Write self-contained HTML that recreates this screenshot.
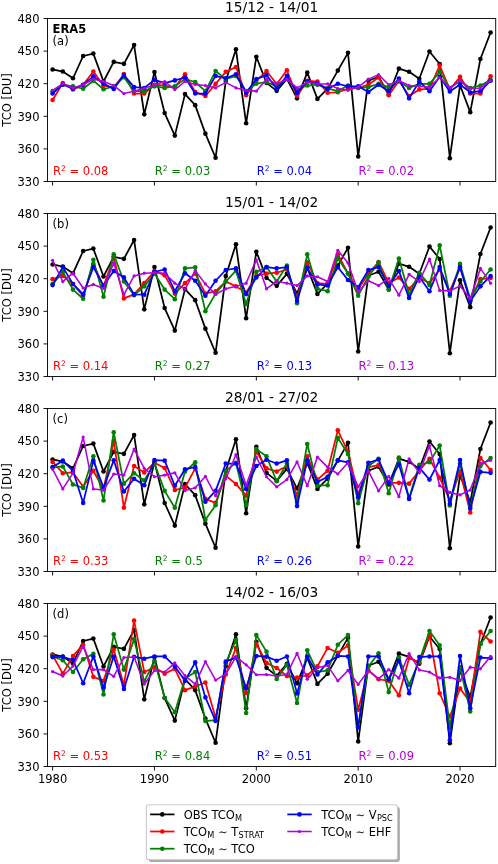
<!DOCTYPE html>
<html><head><meta charset="utf-8"><title>TCO</title>
<style>html,body{margin:0;padding:0;background:#fff}svg{display:block}</style></head>
<body>
<svg width="498" height="864" viewBox="0 0 498 864" font-family="'DejaVu Sans', 'Liberation Sans', sans-serif" font-size="11.5px" fill="#000">
<rect width="498" height="864" fill="#fff"/>
<g>
<clipPath id="c0"><rect x="47.5" y="18.5" width="448.2" height="163.0"/></clipPath>
<line x1="43.5" x2="47.5" y1="18.50" y2="18.50" stroke="#000" stroke-width="0.92"/>
<text x="39.50" y="22.85" text-anchor="end">480</text>
<line x1="43.5" x2="47.5" y1="51.10" y2="51.10" stroke="#000" stroke-width="0.92"/>
<text x="39.50" y="55.45" text-anchor="end">450</text>
<line x1="43.5" x2="47.5" y1="83.70" y2="83.70" stroke="#000" stroke-width="0.92"/>
<text x="39.50" y="88.05" text-anchor="end">420</text>
<line x1="43.5" x2="47.5" y1="116.30" y2="116.30" stroke="#000" stroke-width="0.92"/>
<text x="39.50" y="120.65" text-anchor="end">390</text>
<line x1="43.5" x2="47.5" y1="148.90" y2="148.90" stroke="#000" stroke-width="0.92"/>
<text x="39.50" y="153.25" text-anchor="end">360</text>
<line x1="43.5" x2="47.5" y1="181.50" y2="181.50" stroke="#000" stroke-width="0.92"/>
<text x="39.50" y="185.85" text-anchor="end">330</text>
<line x1="52.60" x2="52.60" y1="181.5" y2="185.5" stroke="#000" stroke-width="0.92"/>
<line x1="154.46" x2="154.46" y1="181.5" y2="185.5" stroke="#000" stroke-width="0.92"/>
<line x1="256.32" x2="256.32" y1="181.5" y2="185.5" stroke="#000" stroke-width="0.92"/>
<line x1="358.18" x2="358.18" y1="181.5" y2="185.5" stroke="#000" stroke-width="0.92"/>
<line x1="460.04" x2="460.04" y1="181.5" y2="185.5" stroke="#000" stroke-width="0.92"/>
<text transform="translate(10.8,100.00) rotate(-90)" text-anchor="middle">TCO [DU]</text>
<text x="271.60" y="11.90" text-anchor="middle" font-size="13.8px">15/12 - 14/01</text>
<g clip-path="url(#c0)">
<polyline points="52.60,69.46 62.79,71.55 72.97,78.29 83.16,56.00 93.34,53.62 103.53,81.51 113.72,61.91 123.90,63.84 134.09,44.99 144.27,114.35 154.46,71.98 164.65,113.06 174.83,135.59 185.02,94.10 195.20,105.15 205.39,133.66 215.58,157.76 225.76,81.10 235.95,49.29 246.13,123.30 256.32,56.72 266.51,82.83 276.69,90.86 286.88,78.81 297.06,98.37 307.25,72.67 317.44,98.89 327.62,88.73 337.81,70.58 347.99,52.82 358.18,156.55 368.37,80.70 378.55,76.80 388.74,94.50 398.92,68.61 409.11,71.82 419.30,78.81 429.48,51.53 439.67,63.95 449.85,158.24 460.04,85.23 470.23,112.14 480.41,58.97 490.60,32.46" fill="none" stroke="#000000" stroke-width="1.75" stroke-linejoin="round" stroke-linecap="butt"/><circle cx="52.60" cy="69.46" r="2.30" fill="#000000"/><circle cx="62.79" cy="71.55" r="2.30" fill="#000000"/><circle cx="72.97" cy="78.29" r="2.30" fill="#000000"/><circle cx="83.16" cy="56.00" r="2.30" fill="#000000"/><circle cx="93.34" cy="53.62" r="2.30" fill="#000000"/><circle cx="103.53" cy="81.51" r="2.30" fill="#000000"/><circle cx="113.72" cy="61.91" r="2.30" fill="#000000"/><circle cx="123.90" cy="63.84" r="2.30" fill="#000000"/><circle cx="134.09" cy="44.99" r="2.30" fill="#000000"/><circle cx="144.27" cy="114.35" r="2.30" fill="#000000"/><circle cx="154.46" cy="71.98" r="2.30" fill="#000000"/><circle cx="164.65" cy="113.06" r="2.30" fill="#000000"/><circle cx="174.83" cy="135.59" r="2.30" fill="#000000"/><circle cx="185.02" cy="94.10" r="2.30" fill="#000000"/><circle cx="195.20" cy="105.15" r="2.30" fill="#000000"/><circle cx="205.39" cy="133.66" r="2.30" fill="#000000"/><circle cx="215.58" cy="157.76" r="2.30" fill="#000000"/><circle cx="225.76" cy="81.10" r="2.30" fill="#000000"/><circle cx="235.95" cy="49.29" r="2.30" fill="#000000"/><circle cx="246.13" cy="123.30" r="2.30" fill="#000000"/><circle cx="256.32" cy="56.72" r="2.30" fill="#000000"/><circle cx="266.51" cy="82.83" r="2.30" fill="#000000"/><circle cx="276.69" cy="90.86" r="2.30" fill="#000000"/><circle cx="286.88" cy="78.81" r="2.30" fill="#000000"/><circle cx="297.06" cy="98.37" r="2.30" fill="#000000"/><circle cx="307.25" cy="72.67" r="2.30" fill="#000000"/><circle cx="317.44" cy="98.89" r="2.30" fill="#000000"/><circle cx="327.62" cy="88.73" r="2.30" fill="#000000"/><circle cx="337.81" cy="70.58" r="2.30" fill="#000000"/><circle cx="347.99" cy="52.82" r="2.30" fill="#000000"/><circle cx="358.18" cy="156.55" r="2.30" fill="#000000"/><circle cx="368.37" cy="80.70" r="2.30" fill="#000000"/><circle cx="378.55" cy="76.80" r="2.30" fill="#000000"/><circle cx="388.74" cy="94.50" r="2.30" fill="#000000"/><circle cx="398.92" cy="68.61" r="2.30" fill="#000000"/><circle cx="409.11" cy="71.82" r="2.30" fill="#000000"/><circle cx="419.30" cy="78.81" r="2.30" fill="#000000"/><circle cx="429.48" cy="51.53" r="2.30" fill="#000000"/><circle cx="439.67" cy="63.95" r="2.30" fill="#000000"/><circle cx="449.85" cy="158.24" r="2.30" fill="#000000"/><circle cx="460.04" cy="85.23" r="2.30" fill="#000000"/><circle cx="470.23" cy="112.14" r="2.30" fill="#000000"/><circle cx="480.41" cy="58.97" r="2.30" fill="#000000"/><circle cx="490.60" cy="32.46" r="2.30" fill="#000000"/>
<polyline points="52.60,99.98 62.79,83.11 72.97,89.54 83.16,84.72 93.34,71.55 103.53,85.52 113.72,87.93 123.90,73.96 134.09,93.55 144.27,93.55 154.46,84.72 164.65,85.52 174.83,87.13 185.02,74.28 195.20,91.95 205.39,95.96 215.58,83.92 225.76,71.87 235.95,67.05 246.13,95.16 256.32,80.70 266.51,71.06 276.69,83.92 286.88,70.26 297.06,95.96 307.25,80.70 317.44,81.51 327.62,92.75 337.81,92.27 347.99,88.73 358.18,87.93 368.37,84.72 378.55,77.49 388.74,95.16 398.92,80.70 409.11,95.96 419.30,89.54 429.48,88.73 439.67,65.44 449.85,89.54 460.04,76.69 470.23,93.55 480.41,93.55 490.60,76.20" fill="none" stroke="#ff0000" stroke-width="1.75" stroke-linejoin="round" stroke-linecap="butt"/><circle cx="52.60" cy="99.98" r="2.30" fill="#ff0000"/><circle cx="62.79" cy="83.11" r="2.30" fill="#ff0000"/><circle cx="72.97" cy="89.54" r="2.30" fill="#ff0000"/><circle cx="83.16" cy="84.72" r="2.30" fill="#ff0000"/><circle cx="93.34" cy="71.55" r="2.30" fill="#ff0000"/><circle cx="103.53" cy="85.52" r="2.30" fill="#ff0000"/><circle cx="113.72" cy="87.93" r="2.30" fill="#ff0000"/><circle cx="123.90" cy="73.96" r="2.30" fill="#ff0000"/><circle cx="134.09" cy="93.55" r="2.30" fill="#ff0000"/><circle cx="144.27" cy="93.55" r="2.30" fill="#ff0000"/><circle cx="154.46" cy="84.72" r="2.30" fill="#ff0000"/><circle cx="164.65" cy="85.52" r="2.30" fill="#ff0000"/><circle cx="174.83" cy="87.13" r="2.30" fill="#ff0000"/><circle cx="185.02" cy="74.28" r="2.30" fill="#ff0000"/><circle cx="195.20" cy="91.95" r="2.30" fill="#ff0000"/><circle cx="205.39" cy="95.96" r="2.30" fill="#ff0000"/><circle cx="215.58" cy="83.92" r="2.30" fill="#ff0000"/><circle cx="225.76" cy="71.87" r="2.30" fill="#ff0000"/><circle cx="235.95" cy="67.05" r="2.30" fill="#ff0000"/><circle cx="246.13" cy="95.16" r="2.30" fill="#ff0000"/><circle cx="256.32" cy="80.70" r="2.30" fill="#ff0000"/><circle cx="266.51" cy="71.06" r="2.30" fill="#ff0000"/><circle cx="276.69" cy="83.92" r="2.30" fill="#ff0000"/><circle cx="286.88" cy="70.26" r="2.30" fill="#ff0000"/><circle cx="297.06" cy="95.96" r="2.30" fill="#ff0000"/><circle cx="307.25" cy="80.70" r="2.30" fill="#ff0000"/><circle cx="317.44" cy="81.51" r="2.30" fill="#ff0000"/><circle cx="327.62" cy="92.75" r="2.30" fill="#ff0000"/><circle cx="337.81" cy="92.27" r="2.30" fill="#ff0000"/><circle cx="347.99" cy="88.73" r="2.30" fill="#ff0000"/><circle cx="358.18" cy="87.93" r="2.30" fill="#ff0000"/><circle cx="368.37" cy="84.72" r="2.30" fill="#ff0000"/><circle cx="378.55" cy="77.49" r="2.30" fill="#ff0000"/><circle cx="388.74" cy="95.16" r="2.30" fill="#ff0000"/><circle cx="398.92" cy="80.70" r="2.30" fill="#ff0000"/><circle cx="409.11" cy="95.96" r="2.30" fill="#ff0000"/><circle cx="419.30" cy="89.54" r="2.30" fill="#ff0000"/><circle cx="429.48" cy="88.73" r="2.30" fill="#ff0000"/><circle cx="439.67" cy="65.44" r="2.30" fill="#ff0000"/><circle cx="449.85" cy="89.54" r="2.30" fill="#ff0000"/><circle cx="460.04" cy="76.69" r="2.30" fill="#ff0000"/><circle cx="470.23" cy="93.55" r="2.30" fill="#ff0000"/><circle cx="480.41" cy="93.55" r="2.30" fill="#ff0000"/><circle cx="490.60" cy="76.20" r="2.30" fill="#ff0000"/>
<polyline points="52.60,91.14 62.79,84.72 72.97,86.33 83.16,88.73 93.34,80.70 103.53,89.22 113.72,86.33 123.90,77.17 134.09,91.14 144.27,91.14 154.46,86.33 164.65,87.93 174.83,86.33 185.02,79.10 195.20,81.99 205.39,91.14 215.58,71.06 225.76,79.10 235.95,75.88 246.13,91.14 256.32,83.59 266.51,81.99 276.69,86.33 286.88,79.10 297.06,89.54 307.25,85.52 317.44,84.72 327.62,88.41 337.81,91.14 347.99,85.52 358.18,87.93 368.37,87.13 378.55,83.92 388.74,87.13 398.92,81.51 409.11,87.93 419.30,83.92 429.48,83.92 439.67,71.87 449.85,87.93 460.04,81.02 470.23,87.93 480.41,85.52 490.60,79.90" fill="none" stroke="#008000" stroke-width="1.75" stroke-linejoin="round" stroke-linecap="butt"/><circle cx="52.60" cy="91.14" r="2.30" fill="#008000"/><circle cx="62.79" cy="84.72" r="2.30" fill="#008000"/><circle cx="72.97" cy="86.33" r="2.30" fill="#008000"/><circle cx="83.16" cy="88.73" r="2.30" fill="#008000"/><circle cx="93.34" cy="80.70" r="2.30" fill="#008000"/><circle cx="103.53" cy="89.22" r="2.30" fill="#008000"/><circle cx="113.72" cy="86.33" r="2.30" fill="#008000"/><circle cx="123.90" cy="77.17" r="2.30" fill="#008000"/><circle cx="134.09" cy="91.14" r="2.30" fill="#008000"/><circle cx="144.27" cy="91.14" r="2.30" fill="#008000"/><circle cx="154.46" cy="86.33" r="2.30" fill="#008000"/><circle cx="164.65" cy="87.93" r="2.30" fill="#008000"/><circle cx="174.83" cy="86.33" r="2.30" fill="#008000"/><circle cx="185.02" cy="79.10" r="2.30" fill="#008000"/><circle cx="195.20" cy="81.99" r="2.30" fill="#008000"/><circle cx="205.39" cy="91.14" r="2.30" fill="#008000"/><circle cx="215.58" cy="71.06" r="2.30" fill="#008000"/><circle cx="225.76" cy="79.10" r="2.30" fill="#008000"/><circle cx="235.95" cy="75.88" r="2.30" fill="#008000"/><circle cx="246.13" cy="91.14" r="2.30" fill="#008000"/><circle cx="256.32" cy="83.59" r="2.30" fill="#008000"/><circle cx="266.51" cy="81.99" r="2.30" fill="#008000"/><circle cx="276.69" cy="86.33" r="2.30" fill="#008000"/><circle cx="286.88" cy="79.10" r="2.30" fill="#008000"/><circle cx="297.06" cy="89.54" r="2.30" fill="#008000"/><circle cx="307.25" cy="85.52" r="2.30" fill="#008000"/><circle cx="317.44" cy="84.72" r="2.30" fill="#008000"/><circle cx="327.62" cy="88.41" r="2.30" fill="#008000"/><circle cx="337.81" cy="91.14" r="2.30" fill="#008000"/><circle cx="347.99" cy="85.52" r="2.30" fill="#008000"/><circle cx="358.18" cy="87.93" r="2.30" fill="#008000"/><circle cx="368.37" cy="87.13" r="2.30" fill="#008000"/><circle cx="378.55" cy="83.92" r="2.30" fill="#008000"/><circle cx="388.74" cy="87.13" r="2.30" fill="#008000"/><circle cx="398.92" cy="81.51" r="2.30" fill="#008000"/><circle cx="409.11" cy="87.93" r="2.30" fill="#008000"/><circle cx="419.30" cy="83.92" r="2.30" fill="#008000"/><circle cx="429.48" cy="83.92" r="2.30" fill="#008000"/><circle cx="439.67" cy="71.87" r="2.30" fill="#008000"/><circle cx="449.85" cy="87.93" r="2.30" fill="#008000"/><circle cx="460.04" cy="81.02" r="2.30" fill="#008000"/><circle cx="470.23" cy="87.93" r="2.30" fill="#008000"/><circle cx="480.41" cy="85.52" r="2.30" fill="#008000"/><circle cx="490.60" cy="79.90" r="2.30" fill="#008000"/>
<polyline points="52.60,93.55 62.79,84.40 72.97,88.73 83.16,84.72 93.34,76.37 103.53,83.59 113.72,89.06 123.90,75.08 134.09,87.13 144.27,87.93 154.46,79.90 164.65,83.11 174.83,80.38 185.02,77.49 195.20,93.55 205.39,93.55 215.58,75.88 225.76,78.29 235.95,74.28 246.13,92.75 256.32,79.10 266.51,75.08 276.69,88.73 286.88,75.88 297.06,92.75 307.25,81.51 317.44,83.59 327.62,88.90 337.81,83.76 347.99,86.33 358.18,86.33 368.37,91.95 378.55,84.72 388.74,91.14 398.92,78.61 409.11,98.37 419.30,81.51 429.48,91.14 439.67,76.69 449.85,91.47 460.04,84.56 470.23,92.43 480.41,91.14 490.60,80.70" fill="none" stroke="#0000ff" stroke-width="1.75" stroke-linejoin="round" stroke-linecap="butt"/><circle cx="52.60" cy="93.55" r="2.30" fill="#0000ff"/><circle cx="62.79" cy="84.40" r="2.30" fill="#0000ff"/><circle cx="72.97" cy="88.73" r="2.30" fill="#0000ff"/><circle cx="83.16" cy="84.72" r="2.30" fill="#0000ff"/><circle cx="93.34" cy="76.37" r="2.30" fill="#0000ff"/><circle cx="103.53" cy="83.59" r="2.30" fill="#0000ff"/><circle cx="113.72" cy="89.06" r="2.30" fill="#0000ff"/><circle cx="123.90" cy="75.08" r="2.30" fill="#0000ff"/><circle cx="134.09" cy="87.13" r="2.30" fill="#0000ff"/><circle cx="144.27" cy="87.93" r="2.30" fill="#0000ff"/><circle cx="154.46" cy="79.90" r="2.30" fill="#0000ff"/><circle cx="164.65" cy="83.11" r="2.30" fill="#0000ff"/><circle cx="174.83" cy="80.38" r="2.30" fill="#0000ff"/><circle cx="185.02" cy="77.49" r="2.30" fill="#0000ff"/><circle cx="195.20" cy="93.55" r="2.30" fill="#0000ff"/><circle cx="205.39" cy="93.55" r="2.30" fill="#0000ff"/><circle cx="215.58" cy="75.88" r="2.30" fill="#0000ff"/><circle cx="225.76" cy="78.29" r="2.30" fill="#0000ff"/><circle cx="235.95" cy="74.28" r="2.30" fill="#0000ff"/><circle cx="246.13" cy="92.75" r="2.30" fill="#0000ff"/><circle cx="256.32" cy="79.10" r="2.30" fill="#0000ff"/><circle cx="266.51" cy="75.08" r="2.30" fill="#0000ff"/><circle cx="276.69" cy="88.73" r="2.30" fill="#0000ff"/><circle cx="286.88" cy="75.88" r="2.30" fill="#0000ff"/><circle cx="297.06" cy="92.75" r="2.30" fill="#0000ff"/><circle cx="307.25" cy="81.51" r="2.30" fill="#0000ff"/><circle cx="317.44" cy="83.59" r="2.30" fill="#0000ff"/><circle cx="327.62" cy="88.90" r="2.30" fill="#0000ff"/><circle cx="337.81" cy="83.76" r="2.30" fill="#0000ff"/><circle cx="347.99" cy="86.33" r="2.30" fill="#0000ff"/><circle cx="358.18" cy="86.33" r="2.30" fill="#0000ff"/><circle cx="368.37" cy="91.95" r="2.30" fill="#0000ff"/><circle cx="378.55" cy="84.72" r="2.30" fill="#0000ff"/><circle cx="388.74" cy="91.14" r="2.30" fill="#0000ff"/><circle cx="398.92" cy="78.61" r="2.30" fill="#0000ff"/><circle cx="409.11" cy="98.37" r="2.30" fill="#0000ff"/><circle cx="419.30" cy="81.51" r="2.30" fill="#0000ff"/><circle cx="429.48" cy="91.14" r="2.30" fill="#0000ff"/><circle cx="439.67" cy="76.69" r="2.30" fill="#0000ff"/><circle cx="449.85" cy="91.47" r="2.30" fill="#0000ff"/><circle cx="460.04" cy="84.56" r="2.30" fill="#0000ff"/><circle cx="470.23" cy="92.43" r="2.30" fill="#0000ff"/><circle cx="480.41" cy="91.14" r="2.30" fill="#0000ff"/><circle cx="490.60" cy="80.70" r="2.30" fill="#0000ff"/>
<polyline points="52.60,90.34 62.79,83.59 72.97,87.93 83.16,84.72 93.34,79.10 103.53,81.51 113.72,85.52 123.90,93.55 134.09,91.31 144.27,88.25 154.46,85.04 164.65,81.51 174.83,89.54 185.02,81.51 195.20,84.40 205.39,85.52 215.58,87.93 225.76,82.31 235.95,87.93 246.13,90.34 256.32,91.14 266.51,79.10 276.69,83.92 286.88,79.10 297.06,87.93 307.25,82.31 317.44,83.92 327.62,83.92 337.81,88.57 347.99,90.34 358.18,87.13 368.37,79.10 378.55,74.60 388.74,84.72 398.92,80.70 409.11,85.52 419.30,86.33 429.48,87.13 439.67,77.49 449.85,87.61 460.04,80.54 470.23,88.73 480.41,87.93 490.60,80.38" fill="none" stroke="#b200de" stroke-width="1.55" stroke-linejoin="round" stroke-linecap="butt"/><circle cx="52.60" cy="90.34" r="1.60" fill="#b200de"/><circle cx="62.79" cy="83.59" r="1.60" fill="#b200de"/><circle cx="72.97" cy="87.93" r="1.60" fill="#b200de"/><circle cx="83.16" cy="84.72" r="1.60" fill="#b200de"/><circle cx="93.34" cy="79.10" r="1.60" fill="#b200de"/><circle cx="103.53" cy="81.51" r="1.60" fill="#b200de"/><circle cx="113.72" cy="85.52" r="1.60" fill="#b200de"/><circle cx="123.90" cy="93.55" r="1.60" fill="#b200de"/><circle cx="134.09" cy="91.31" r="1.60" fill="#b200de"/><circle cx="144.27" cy="88.25" r="1.60" fill="#b200de"/><circle cx="154.46" cy="85.04" r="1.60" fill="#b200de"/><circle cx="164.65" cy="81.51" r="1.60" fill="#b200de"/><circle cx="174.83" cy="89.54" r="1.60" fill="#b200de"/><circle cx="185.02" cy="81.51" r="1.60" fill="#b200de"/><circle cx="195.20" cy="84.40" r="1.60" fill="#b200de"/><circle cx="205.39" cy="85.52" r="1.60" fill="#b200de"/><circle cx="215.58" cy="87.93" r="1.60" fill="#b200de"/><circle cx="225.76" cy="82.31" r="1.60" fill="#b200de"/><circle cx="235.95" cy="87.93" r="1.60" fill="#b200de"/><circle cx="246.13" cy="90.34" r="1.60" fill="#b200de"/><circle cx="256.32" cy="91.14" r="1.60" fill="#b200de"/><circle cx="266.51" cy="79.10" r="1.60" fill="#b200de"/><circle cx="276.69" cy="83.92" r="1.60" fill="#b200de"/><circle cx="286.88" cy="79.10" r="1.60" fill="#b200de"/><circle cx="297.06" cy="87.93" r="1.60" fill="#b200de"/><circle cx="307.25" cy="82.31" r="1.60" fill="#b200de"/><circle cx="317.44" cy="83.92" r="1.60" fill="#b200de"/><circle cx="327.62" cy="83.92" r="1.60" fill="#b200de"/><circle cx="337.81" cy="88.57" r="1.60" fill="#b200de"/><circle cx="347.99" cy="90.34" r="1.60" fill="#b200de"/><circle cx="358.18" cy="87.13" r="1.60" fill="#b200de"/><circle cx="368.37" cy="79.10" r="1.60" fill="#b200de"/><circle cx="378.55" cy="74.60" r="1.60" fill="#b200de"/><circle cx="388.74" cy="84.72" r="1.60" fill="#b200de"/><circle cx="398.92" cy="80.70" r="1.60" fill="#b200de"/><circle cx="409.11" cy="85.52" r="1.60" fill="#b200de"/><circle cx="419.30" cy="86.33" r="1.60" fill="#b200de"/><circle cx="429.48" cy="87.13" r="1.60" fill="#b200de"/><circle cx="439.67" cy="77.49" r="1.60" fill="#b200de"/><circle cx="449.85" cy="87.61" r="1.60" fill="#b200de"/><circle cx="460.04" cy="80.54" r="1.60" fill="#b200de"/><circle cx="470.23" cy="88.73" r="1.60" fill="#b200de"/><circle cx="480.41" cy="87.93" r="1.60" fill="#b200de"/><circle cx="490.60" cy="80.38" r="1.60" fill="#b200de"/>
</g>
<rect x="47.5" y="18.5" width="448.2" height="163.0" fill="none" stroke="#000" stroke-width="0.92"/>
<text x="52.6" y="32.70" font-weight="bold">ERA5</text>
<text x="52.6" y="45.10">(a)</text>
<text x="53.00" y="175.40" fill="#ff0000">R<tspan font-size="7.6px" dy="-4.1">2</tspan><tspan dy="4.1"> = 0.08</tspan></text>
<text x="154.86" y="175.40" fill="#008000">R<tspan font-size="7.6px" dy="-4.1">2</tspan><tspan dy="4.1"> = 0.03</tspan></text>
<text x="256.72" y="175.40" fill="#0000ff">R<tspan font-size="7.6px" dy="-4.1">2</tspan><tspan dy="4.1"> = 0.04</tspan></text>
<text x="358.58" y="175.40" fill="#b200de">R<tspan font-size="7.6px" dy="-4.1">2</tspan><tspan dy="4.1"> = 0.02</tspan></text>
</g>
<g>
<clipPath id="c1"><rect x="47.5" y="213.5" width="448.2" height="163.0"/></clipPath>
<line x1="43.5" x2="47.5" y1="213.50" y2="213.50" stroke="#000" stroke-width="0.92"/>
<text x="39.50" y="217.85" text-anchor="end">480</text>
<line x1="43.5" x2="47.5" y1="246.10" y2="246.10" stroke="#000" stroke-width="0.92"/>
<text x="39.50" y="250.45" text-anchor="end">450</text>
<line x1="43.5" x2="47.5" y1="278.70" y2="278.70" stroke="#000" stroke-width="0.92"/>
<text x="39.50" y="283.05" text-anchor="end">420</text>
<line x1="43.5" x2="47.5" y1="311.30" y2="311.30" stroke="#000" stroke-width="0.92"/>
<text x="39.50" y="315.65" text-anchor="end">390</text>
<line x1="43.5" x2="47.5" y1="343.90" y2="343.90" stroke="#000" stroke-width="0.92"/>
<text x="39.50" y="348.25" text-anchor="end">360</text>
<line x1="43.5" x2="47.5" y1="376.50" y2="376.50" stroke="#000" stroke-width="0.92"/>
<text x="39.50" y="380.85" text-anchor="end">330</text>
<line x1="52.60" x2="52.60" y1="376.5" y2="380.5" stroke="#000" stroke-width="0.92"/>
<line x1="154.46" x2="154.46" y1="376.5" y2="380.5" stroke="#000" stroke-width="0.92"/>
<line x1="256.32" x2="256.32" y1="376.5" y2="380.5" stroke="#000" stroke-width="0.92"/>
<line x1="358.18" x2="358.18" y1="376.5" y2="380.5" stroke="#000" stroke-width="0.92"/>
<line x1="460.04" x2="460.04" y1="376.5" y2="380.5" stroke="#000" stroke-width="0.92"/>
<text transform="translate(10.8,295.00) rotate(-90)" text-anchor="middle">TCO [DU]</text>
<text x="271.60" y="206.90" text-anchor="middle" font-size="13.8px">15/01 - 14/02</text>
<g clip-path="url(#c1)">
<polyline points="52.60,264.46 62.79,266.55 72.97,273.29 83.16,251.00 93.34,248.62 103.53,276.51 113.72,256.91 123.90,258.84 134.09,239.99 144.27,309.35 154.46,266.98 164.65,308.06 174.83,330.59 185.02,289.10 195.20,300.15 205.39,328.66 215.58,352.76 225.76,276.10 235.95,244.29 246.13,318.30 256.32,251.72 266.51,277.83 276.69,285.86 286.88,273.81 297.06,293.37 307.25,267.67 317.44,293.89 327.62,283.73 337.81,265.58 347.99,247.82 358.18,351.55 368.37,275.70 378.55,271.80 388.74,289.50 398.92,263.61 409.11,266.82 419.30,273.81 429.48,246.53 439.67,258.95 449.85,353.24 460.04,280.23 470.23,307.14 480.41,253.97 490.60,227.46" fill="none" stroke="#000000" stroke-width="1.75" stroke-linejoin="round" stroke-linecap="butt"/><circle cx="52.60" cy="264.46" r="2.30" fill="#000000"/><circle cx="62.79" cy="266.55" r="2.30" fill="#000000"/><circle cx="72.97" cy="273.29" r="2.30" fill="#000000"/><circle cx="83.16" cy="251.00" r="2.30" fill="#000000"/><circle cx="93.34" cy="248.62" r="2.30" fill="#000000"/><circle cx="103.53" cy="276.51" r="2.30" fill="#000000"/><circle cx="113.72" cy="256.91" r="2.30" fill="#000000"/><circle cx="123.90" cy="258.84" r="2.30" fill="#000000"/><circle cx="134.09" cy="239.99" r="2.30" fill="#000000"/><circle cx="144.27" cy="309.35" r="2.30" fill="#000000"/><circle cx="154.46" cy="266.98" r="2.30" fill="#000000"/><circle cx="164.65" cy="308.06" r="2.30" fill="#000000"/><circle cx="174.83" cy="330.59" r="2.30" fill="#000000"/><circle cx="185.02" cy="289.10" r="2.30" fill="#000000"/><circle cx="195.20" cy="300.15" r="2.30" fill="#000000"/><circle cx="205.39" cy="328.66" r="2.30" fill="#000000"/><circle cx="215.58" cy="352.76" r="2.30" fill="#000000"/><circle cx="225.76" cy="276.10" r="2.30" fill="#000000"/><circle cx="235.95" cy="244.29" r="2.30" fill="#000000"/><circle cx="246.13" cy="318.30" r="2.30" fill="#000000"/><circle cx="256.32" cy="251.72" r="2.30" fill="#000000"/><circle cx="266.51" cy="277.83" r="2.30" fill="#000000"/><circle cx="276.69" cy="285.86" r="2.30" fill="#000000"/><circle cx="286.88" cy="273.81" r="2.30" fill="#000000"/><circle cx="297.06" cy="293.37" r="2.30" fill="#000000"/><circle cx="307.25" cy="267.67" r="2.30" fill="#000000"/><circle cx="317.44" cy="293.89" r="2.30" fill="#000000"/><circle cx="327.62" cy="283.73" r="2.30" fill="#000000"/><circle cx="337.81" cy="265.58" r="2.30" fill="#000000"/><circle cx="347.99" cy="247.82" r="2.30" fill="#000000"/><circle cx="358.18" cy="351.55" r="2.30" fill="#000000"/><circle cx="368.37" cy="275.70" r="2.30" fill="#000000"/><circle cx="378.55" cy="271.80" r="2.30" fill="#000000"/><circle cx="388.74" cy="289.50" r="2.30" fill="#000000"/><circle cx="398.92" cy="263.61" r="2.30" fill="#000000"/><circle cx="409.11" cy="266.82" r="2.30" fill="#000000"/><circle cx="419.30" cy="273.81" r="2.30" fill="#000000"/><circle cx="429.48" cy="246.53" r="2.30" fill="#000000"/><circle cx="439.67" cy="258.95" r="2.30" fill="#000000"/><circle cx="449.85" cy="353.24" r="2.30" fill="#000000"/><circle cx="460.04" cy="280.23" r="2.30" fill="#000000"/><circle cx="470.23" cy="307.14" r="2.30" fill="#000000"/><circle cx="480.41" cy="253.97" r="2.30" fill="#000000"/><circle cx="490.60" cy="227.46" r="2.30" fill="#000000"/>
<polyline points="52.60,279.14 62.79,275.93 72.97,284.12 83.16,296.01 93.34,263.88 103.53,286.37 113.72,257.46 123.90,298.42 134.09,294.41 144.27,283.16 154.46,271.11 164.65,275.13 174.83,293.60 185.02,283.16 195.20,273.52 205.39,293.60 215.58,291.19 225.76,281.55 235.95,286.37 246.13,292.80 256.32,275.93 266.51,273.52 276.69,272.72 286.88,269.51 297.06,297.62 307.25,262.28 317.44,283.16 327.62,283.96 337.81,254.24 347.99,273.52 358.18,289.59 368.37,273.52 378.55,261.96 388.74,283.16 398.92,277.54 409.11,288.78 419.30,277.54 429.48,283.16 439.67,269.51 449.85,291.19 460.04,267.42 470.23,299.55 480.41,279.14 490.60,278.02" fill="none" stroke="#ff0000" stroke-width="1.75" stroke-linejoin="round" stroke-linecap="butt"/><circle cx="52.60" cy="279.14" r="2.30" fill="#ff0000"/><circle cx="62.79" cy="275.93" r="2.30" fill="#ff0000"/><circle cx="72.97" cy="284.12" r="2.30" fill="#ff0000"/><circle cx="83.16" cy="296.01" r="2.30" fill="#ff0000"/><circle cx="93.34" cy="263.88" r="2.30" fill="#ff0000"/><circle cx="103.53" cy="286.37" r="2.30" fill="#ff0000"/><circle cx="113.72" cy="257.46" r="2.30" fill="#ff0000"/><circle cx="123.90" cy="298.42" r="2.30" fill="#ff0000"/><circle cx="134.09" cy="294.41" r="2.30" fill="#ff0000"/><circle cx="144.27" cy="283.16" r="2.30" fill="#ff0000"/><circle cx="154.46" cy="271.11" r="2.30" fill="#ff0000"/><circle cx="164.65" cy="275.13" r="2.30" fill="#ff0000"/><circle cx="174.83" cy="293.60" r="2.30" fill="#ff0000"/><circle cx="185.02" cy="283.16" r="2.30" fill="#ff0000"/><circle cx="195.20" cy="273.52" r="2.30" fill="#ff0000"/><circle cx="205.39" cy="293.60" r="2.30" fill="#ff0000"/><circle cx="215.58" cy="291.19" r="2.30" fill="#ff0000"/><circle cx="225.76" cy="281.55" r="2.30" fill="#ff0000"/><circle cx="235.95" cy="286.37" r="2.30" fill="#ff0000"/><circle cx="246.13" cy="292.80" r="2.30" fill="#ff0000"/><circle cx="256.32" cy="275.93" r="2.30" fill="#ff0000"/><circle cx="266.51" cy="273.52" r="2.30" fill="#ff0000"/><circle cx="276.69" cy="272.72" r="2.30" fill="#ff0000"/><circle cx="286.88" cy="269.51" r="2.30" fill="#ff0000"/><circle cx="297.06" cy="297.62" r="2.30" fill="#ff0000"/><circle cx="307.25" cy="262.28" r="2.30" fill="#ff0000"/><circle cx="317.44" cy="283.16" r="2.30" fill="#ff0000"/><circle cx="327.62" cy="283.96" r="2.30" fill="#ff0000"/><circle cx="337.81" cy="254.24" r="2.30" fill="#ff0000"/><circle cx="347.99" cy="273.52" r="2.30" fill="#ff0000"/><circle cx="358.18" cy="289.59" r="2.30" fill="#ff0000"/><circle cx="368.37" cy="273.52" r="2.30" fill="#ff0000"/><circle cx="378.55" cy="261.96" r="2.30" fill="#ff0000"/><circle cx="388.74" cy="283.16" r="2.30" fill="#ff0000"/><circle cx="398.92" cy="277.54" r="2.30" fill="#ff0000"/><circle cx="409.11" cy="288.78" r="2.30" fill="#ff0000"/><circle cx="419.30" cy="277.54" r="2.30" fill="#ff0000"/><circle cx="429.48" cy="283.16" r="2.30" fill="#ff0000"/><circle cx="439.67" cy="269.51" r="2.30" fill="#ff0000"/><circle cx="449.85" cy="291.19" r="2.30" fill="#ff0000"/><circle cx="460.04" cy="267.42" r="2.30" fill="#ff0000"/><circle cx="470.23" cy="299.55" r="2.30" fill="#ff0000"/><circle cx="480.41" cy="279.14" r="2.30" fill="#ff0000"/><circle cx="490.60" cy="278.02" r="2.30" fill="#ff0000"/>
<polyline points="52.60,284.12 62.79,271.92 72.97,289.59 83.16,298.74 93.34,259.87 103.53,296.82 113.72,254.24 123.90,281.55 134.09,295.21 144.27,286.37 154.46,273.52 164.65,289.59 174.83,299.22 185.02,268.38 195.20,267.26 205.39,311.27 215.58,293.60 225.76,281.55 235.95,270.63 246.13,304.04 256.32,271.92 266.51,267.10 276.69,281.55 286.88,265.49 297.06,303.24 307.25,254.24 317.44,288.78 327.62,291.19 337.81,258.26 347.99,273.52 358.18,295.69 368.37,276.73 378.55,262.60 388.74,289.59 398.92,258.58 409.11,294.41 419.30,272.72 429.48,285.09 439.67,245.41 449.85,295.69 460.04,263.88 470.23,299.22 480.41,281.55 490.60,269.51" fill="none" stroke="#008000" stroke-width="1.75" stroke-linejoin="round" stroke-linecap="butt"/><circle cx="52.60" cy="284.12" r="2.30" fill="#008000"/><circle cx="62.79" cy="271.92" r="2.30" fill="#008000"/><circle cx="72.97" cy="289.59" r="2.30" fill="#008000"/><circle cx="83.16" cy="298.74" r="2.30" fill="#008000"/><circle cx="93.34" cy="259.87" r="2.30" fill="#008000"/><circle cx="103.53" cy="296.82" r="2.30" fill="#008000"/><circle cx="113.72" cy="254.24" r="2.30" fill="#008000"/><circle cx="123.90" cy="281.55" r="2.30" fill="#008000"/><circle cx="134.09" cy="295.21" r="2.30" fill="#008000"/><circle cx="144.27" cy="286.37" r="2.30" fill="#008000"/><circle cx="154.46" cy="273.52" r="2.30" fill="#008000"/><circle cx="164.65" cy="289.59" r="2.30" fill="#008000"/><circle cx="174.83" cy="299.22" r="2.30" fill="#008000"/><circle cx="185.02" cy="268.38" r="2.30" fill="#008000"/><circle cx="195.20" cy="267.26" r="2.30" fill="#008000"/><circle cx="205.39" cy="311.27" r="2.30" fill="#008000"/><circle cx="215.58" cy="293.60" r="2.30" fill="#008000"/><circle cx="225.76" cy="281.55" r="2.30" fill="#008000"/><circle cx="235.95" cy="270.63" r="2.30" fill="#008000"/><circle cx="246.13" cy="304.04" r="2.30" fill="#008000"/><circle cx="256.32" cy="271.92" r="2.30" fill="#008000"/><circle cx="266.51" cy="267.10" r="2.30" fill="#008000"/><circle cx="276.69" cy="281.55" r="2.30" fill="#008000"/><circle cx="286.88" cy="265.49" r="2.30" fill="#008000"/><circle cx="297.06" cy="303.24" r="2.30" fill="#008000"/><circle cx="307.25" cy="254.24" r="2.30" fill="#008000"/><circle cx="317.44" cy="288.78" r="2.30" fill="#008000"/><circle cx="327.62" cy="291.19" r="2.30" fill="#008000"/><circle cx="337.81" cy="258.26" r="2.30" fill="#008000"/><circle cx="347.99" cy="273.52" r="2.30" fill="#008000"/><circle cx="358.18" cy="295.69" r="2.30" fill="#008000"/><circle cx="368.37" cy="276.73" r="2.30" fill="#008000"/><circle cx="378.55" cy="262.60" r="2.30" fill="#008000"/><circle cx="388.74" cy="289.59" r="2.30" fill="#008000"/><circle cx="398.92" cy="258.58" r="2.30" fill="#008000"/><circle cx="409.11" cy="294.41" r="2.30" fill="#008000"/><circle cx="419.30" cy="272.72" r="2.30" fill="#008000"/><circle cx="429.48" cy="285.09" r="2.30" fill="#008000"/><circle cx="439.67" cy="245.41" r="2.30" fill="#008000"/><circle cx="449.85" cy="295.69" r="2.30" fill="#008000"/><circle cx="460.04" cy="263.88" r="2.30" fill="#008000"/><circle cx="470.23" cy="299.22" r="2.30" fill="#008000"/><circle cx="480.41" cy="281.55" r="2.30" fill="#008000"/><circle cx="490.60" cy="269.51" r="2.30" fill="#008000"/>
<polyline points="52.60,285.09 62.79,267.10 72.97,283.96 83.16,294.41 93.34,267.10 103.53,285.57 113.72,271.11 123.90,277.38 134.09,294.41 144.27,294.73 154.46,271.92 164.65,269.51 174.83,291.19 185.02,273.20 195.20,280.75 205.39,295.69 215.58,280.75 225.76,269.99 235.95,268.38 246.13,294.08 256.32,277.54 266.51,267.10 276.69,268.38 286.88,267.10 297.06,300.83 307.25,267.90 317.44,284.45 327.62,285.57 337.81,267.10 347.99,279.95 358.18,287.18 368.37,269.99 378.55,267.10 388.74,286.05 398.92,271.11 409.11,297.94 419.30,276.73 429.48,291.19 439.67,267.10 449.85,294.08 460.04,267.10 470.23,301.31 480.41,286.37 490.60,275.93" fill="none" stroke="#0000ff" stroke-width="1.75" stroke-linejoin="round" stroke-linecap="butt"/><circle cx="52.60" cy="285.09" r="2.30" fill="#0000ff"/><circle cx="62.79" cy="267.10" r="2.30" fill="#0000ff"/><circle cx="72.97" cy="283.96" r="2.30" fill="#0000ff"/><circle cx="83.16" cy="294.41" r="2.30" fill="#0000ff"/><circle cx="93.34" cy="267.10" r="2.30" fill="#0000ff"/><circle cx="103.53" cy="285.57" r="2.30" fill="#0000ff"/><circle cx="113.72" cy="271.11" r="2.30" fill="#0000ff"/><circle cx="123.90" cy="277.38" r="2.30" fill="#0000ff"/><circle cx="134.09" cy="294.41" r="2.30" fill="#0000ff"/><circle cx="144.27" cy="294.73" r="2.30" fill="#0000ff"/><circle cx="154.46" cy="271.92" r="2.30" fill="#0000ff"/><circle cx="164.65" cy="269.51" r="2.30" fill="#0000ff"/><circle cx="174.83" cy="291.19" r="2.30" fill="#0000ff"/><circle cx="185.02" cy="273.20" r="2.30" fill="#0000ff"/><circle cx="195.20" cy="280.75" r="2.30" fill="#0000ff"/><circle cx="205.39" cy="295.69" r="2.30" fill="#0000ff"/><circle cx="215.58" cy="280.75" r="2.30" fill="#0000ff"/><circle cx="225.76" cy="269.99" r="2.30" fill="#0000ff"/><circle cx="235.95" cy="268.38" r="2.30" fill="#0000ff"/><circle cx="246.13" cy="294.08" r="2.30" fill="#0000ff"/><circle cx="256.32" cy="277.54" r="2.30" fill="#0000ff"/><circle cx="266.51" cy="267.10" r="2.30" fill="#0000ff"/><circle cx="276.69" cy="268.38" r="2.30" fill="#0000ff"/><circle cx="286.88" cy="267.10" r="2.30" fill="#0000ff"/><circle cx="297.06" cy="300.83" r="2.30" fill="#0000ff"/><circle cx="307.25" cy="267.90" r="2.30" fill="#0000ff"/><circle cx="317.44" cy="284.45" r="2.30" fill="#0000ff"/><circle cx="327.62" cy="285.57" r="2.30" fill="#0000ff"/><circle cx="337.81" cy="267.10" r="2.30" fill="#0000ff"/><circle cx="347.99" cy="279.95" r="2.30" fill="#0000ff"/><circle cx="358.18" cy="287.18" r="2.30" fill="#0000ff"/><circle cx="368.37" cy="269.99" r="2.30" fill="#0000ff"/><circle cx="378.55" cy="267.10" r="2.30" fill="#0000ff"/><circle cx="388.74" cy="286.05" r="2.30" fill="#0000ff"/><circle cx="398.92" cy="271.11" r="2.30" fill="#0000ff"/><circle cx="409.11" cy="297.94" r="2.30" fill="#0000ff"/><circle cx="419.30" cy="276.73" r="2.30" fill="#0000ff"/><circle cx="429.48" cy="291.19" r="2.30" fill="#0000ff"/><circle cx="439.67" cy="267.10" r="2.30" fill="#0000ff"/><circle cx="449.85" cy="294.08" r="2.30" fill="#0000ff"/><circle cx="460.04" cy="267.10" r="2.30" fill="#0000ff"/><circle cx="470.23" cy="301.31" r="2.30" fill="#0000ff"/><circle cx="480.41" cy="286.37" r="2.30" fill="#0000ff"/><circle cx="490.60" cy="275.93" r="2.30" fill="#0000ff"/>
<polyline points="52.60,260.35 62.79,281.55 72.97,273.20 83.16,287.98 93.34,284.45 103.53,288.46 113.72,263.08 123.90,294.57 134.09,275.93 144.27,273.20 154.46,272.72 164.65,273.20 174.83,283.16 185.02,289.10 195.20,270.63 205.39,283.96 215.58,294.41 225.76,288.78 235.95,286.37 246.13,283.16 256.32,259.87 266.51,288.78 276.69,281.23 286.88,283.16 297.06,285.57 307.25,275.93 317.44,276.73 327.62,281.55 337.81,250.23 347.99,263.08 358.18,292.00 368.37,280.75 378.55,285.57 388.74,278.34 398.92,295.21 409.11,274.33 419.30,281.55 429.48,259.06 439.67,290.39 449.85,290.87 460.04,286.05 470.23,298.42 480.41,268.38 490.60,283.16" fill="none" stroke="#b200de" stroke-width="1.55" stroke-linejoin="round" stroke-linecap="butt"/><circle cx="52.60" cy="260.35" r="1.60" fill="#b200de"/><circle cx="62.79" cy="281.55" r="1.60" fill="#b200de"/><circle cx="72.97" cy="273.20" r="1.60" fill="#b200de"/><circle cx="83.16" cy="287.98" r="1.60" fill="#b200de"/><circle cx="93.34" cy="284.45" r="1.60" fill="#b200de"/><circle cx="103.53" cy="288.46" r="1.60" fill="#b200de"/><circle cx="113.72" cy="263.08" r="1.60" fill="#b200de"/><circle cx="123.90" cy="294.57" r="1.60" fill="#b200de"/><circle cx="134.09" cy="275.93" r="1.60" fill="#b200de"/><circle cx="144.27" cy="273.20" r="1.60" fill="#b200de"/><circle cx="154.46" cy="272.72" r="1.60" fill="#b200de"/><circle cx="164.65" cy="273.20" r="1.60" fill="#b200de"/><circle cx="174.83" cy="283.16" r="1.60" fill="#b200de"/><circle cx="185.02" cy="289.10" r="1.60" fill="#b200de"/><circle cx="195.20" cy="270.63" r="1.60" fill="#b200de"/><circle cx="205.39" cy="283.96" r="1.60" fill="#b200de"/><circle cx="215.58" cy="294.41" r="1.60" fill="#b200de"/><circle cx="225.76" cy="288.78" r="1.60" fill="#b200de"/><circle cx="235.95" cy="286.37" r="1.60" fill="#b200de"/><circle cx="246.13" cy="283.16" r="1.60" fill="#b200de"/><circle cx="256.32" cy="259.87" r="1.60" fill="#b200de"/><circle cx="266.51" cy="288.78" r="1.60" fill="#b200de"/><circle cx="276.69" cy="281.23" r="1.60" fill="#b200de"/><circle cx="286.88" cy="283.16" r="1.60" fill="#b200de"/><circle cx="297.06" cy="285.57" r="1.60" fill="#b200de"/><circle cx="307.25" cy="275.93" r="1.60" fill="#b200de"/><circle cx="317.44" cy="276.73" r="1.60" fill="#b200de"/><circle cx="327.62" cy="281.55" r="1.60" fill="#b200de"/><circle cx="337.81" cy="250.23" r="1.60" fill="#b200de"/><circle cx="347.99" cy="263.08" r="1.60" fill="#b200de"/><circle cx="358.18" cy="292.00" r="1.60" fill="#b200de"/><circle cx="368.37" cy="280.75" r="1.60" fill="#b200de"/><circle cx="378.55" cy="285.57" r="1.60" fill="#b200de"/><circle cx="388.74" cy="278.34" r="1.60" fill="#b200de"/><circle cx="398.92" cy="295.21" r="1.60" fill="#b200de"/><circle cx="409.11" cy="274.33" r="1.60" fill="#b200de"/><circle cx="419.30" cy="281.55" r="1.60" fill="#b200de"/><circle cx="429.48" cy="259.06" r="1.60" fill="#b200de"/><circle cx="439.67" cy="290.39" r="1.60" fill="#b200de"/><circle cx="449.85" cy="290.87" r="1.60" fill="#b200de"/><circle cx="460.04" cy="286.05" r="1.60" fill="#b200de"/><circle cx="470.23" cy="298.42" r="1.60" fill="#b200de"/><circle cx="480.41" cy="268.38" r="1.60" fill="#b200de"/><circle cx="490.60" cy="283.16" r="1.60" fill="#b200de"/>
</g>
<rect x="47.5" y="213.5" width="448.2" height="163.0" fill="none" stroke="#000" stroke-width="0.92"/>
<text x="52.6" y="227.60">(b)</text>
<text x="53.00" y="370.40" fill="#ff0000">R<tspan font-size="7.6px" dy="-4.1">2</tspan><tspan dy="4.1"> = 0.14</tspan></text>
<text x="154.86" y="370.40" fill="#008000">R<tspan font-size="7.6px" dy="-4.1">2</tspan><tspan dy="4.1"> = 0.27</tspan></text>
<text x="256.72" y="370.40" fill="#0000ff">R<tspan font-size="7.6px" dy="-4.1">2</tspan><tspan dy="4.1"> = 0.13</tspan></text>
<text x="358.58" y="370.40" fill="#b200de">R<tspan font-size="7.6px" dy="-4.1">2</tspan><tspan dy="4.1"> = 0.13</tspan></text>
</g>
<g>
<clipPath id="c2"><rect x="47.5" y="408.5" width="448.2" height="163.0"/></clipPath>
<line x1="43.5" x2="47.5" y1="408.50" y2="408.50" stroke="#000" stroke-width="0.92"/>
<text x="39.50" y="412.85" text-anchor="end">480</text>
<line x1="43.5" x2="47.5" y1="441.10" y2="441.10" stroke="#000" stroke-width="0.92"/>
<text x="39.50" y="445.45" text-anchor="end">450</text>
<line x1="43.5" x2="47.5" y1="473.70" y2="473.70" stroke="#000" stroke-width="0.92"/>
<text x="39.50" y="478.05" text-anchor="end">420</text>
<line x1="43.5" x2="47.5" y1="506.30" y2="506.30" stroke="#000" stroke-width="0.92"/>
<text x="39.50" y="510.65" text-anchor="end">390</text>
<line x1="43.5" x2="47.5" y1="538.90" y2="538.90" stroke="#000" stroke-width="0.92"/>
<text x="39.50" y="543.25" text-anchor="end">360</text>
<line x1="43.5" x2="47.5" y1="571.50" y2="571.50" stroke="#000" stroke-width="0.92"/>
<text x="39.50" y="575.85" text-anchor="end">330</text>
<line x1="52.60" x2="52.60" y1="571.5" y2="575.5" stroke="#000" stroke-width="0.92"/>
<line x1="154.46" x2="154.46" y1="571.5" y2="575.5" stroke="#000" stroke-width="0.92"/>
<line x1="256.32" x2="256.32" y1="571.5" y2="575.5" stroke="#000" stroke-width="0.92"/>
<line x1="358.18" x2="358.18" y1="571.5" y2="575.5" stroke="#000" stroke-width="0.92"/>
<line x1="460.04" x2="460.04" y1="571.5" y2="575.5" stroke="#000" stroke-width="0.92"/>
<text transform="translate(10.8,490.00) rotate(-90)" text-anchor="middle">TCO [DU]</text>
<text x="271.60" y="401.90" text-anchor="middle" font-size="13.8px">28/01 - 27/02</text>
<g clip-path="url(#c2)">
<polyline points="52.60,459.46 62.79,461.55 72.97,468.29 83.16,446.00 93.34,443.62 103.53,471.51 113.72,451.91 123.90,453.84 134.09,434.99 144.27,504.35 154.46,461.98 164.65,503.06 174.83,525.59 185.02,484.10 195.20,495.15 205.39,523.66 215.58,547.76 225.76,471.10 235.95,439.29 246.13,513.30 256.32,446.72 266.51,472.83 276.69,480.86 286.88,468.81 297.06,488.37 307.25,462.67 317.44,488.89 327.62,478.73 337.81,460.58 347.99,442.82 358.18,546.55 368.37,470.70 378.55,466.80 388.74,484.50 398.92,458.61 409.11,461.82 419.30,468.81 429.48,441.53 439.67,453.95 449.85,548.24 460.04,475.23 470.23,502.14 480.41,448.97 490.60,422.46" fill="none" stroke="#000000" stroke-width="1.75" stroke-linejoin="round" stroke-linecap="butt"/><circle cx="52.60" cy="459.46" r="2.30" fill="#000000"/><circle cx="62.79" cy="461.55" r="2.30" fill="#000000"/><circle cx="72.97" cy="468.29" r="2.30" fill="#000000"/><circle cx="83.16" cy="446.00" r="2.30" fill="#000000"/><circle cx="93.34" cy="443.62" r="2.30" fill="#000000"/><circle cx="103.53" cy="471.51" r="2.30" fill="#000000"/><circle cx="113.72" cy="451.91" r="2.30" fill="#000000"/><circle cx="123.90" cy="453.84" r="2.30" fill="#000000"/><circle cx="134.09" cy="434.99" r="2.30" fill="#000000"/><circle cx="144.27" cy="504.35" r="2.30" fill="#000000"/><circle cx="154.46" cy="461.98" r="2.30" fill="#000000"/><circle cx="164.65" cy="503.06" r="2.30" fill="#000000"/><circle cx="174.83" cy="525.59" r="2.30" fill="#000000"/><circle cx="185.02" cy="484.10" r="2.30" fill="#000000"/><circle cx="195.20" cy="495.15" r="2.30" fill="#000000"/><circle cx="205.39" cy="523.66" r="2.30" fill="#000000"/><circle cx="215.58" cy="547.76" r="2.30" fill="#000000"/><circle cx="225.76" cy="471.10" r="2.30" fill="#000000"/><circle cx="235.95" cy="439.29" r="2.30" fill="#000000"/><circle cx="246.13" cy="513.30" r="2.30" fill="#000000"/><circle cx="256.32" cy="446.72" r="2.30" fill="#000000"/><circle cx="266.51" cy="472.83" r="2.30" fill="#000000"/><circle cx="276.69" cy="480.86" r="2.30" fill="#000000"/><circle cx="286.88" cy="468.81" r="2.30" fill="#000000"/><circle cx="297.06" cy="488.37" r="2.30" fill="#000000"/><circle cx="307.25" cy="462.67" r="2.30" fill="#000000"/><circle cx="317.44" cy="488.89" r="2.30" fill="#000000"/><circle cx="327.62" cy="478.73" r="2.30" fill="#000000"/><circle cx="337.81" cy="460.58" r="2.30" fill="#000000"/><circle cx="347.99" cy="442.82" r="2.30" fill="#000000"/><circle cx="358.18" cy="546.55" r="2.30" fill="#000000"/><circle cx="368.37" cy="470.70" r="2.30" fill="#000000"/><circle cx="378.55" cy="466.80" r="2.30" fill="#000000"/><circle cx="388.74" cy="484.50" r="2.30" fill="#000000"/><circle cx="398.92" cy="458.61" r="2.30" fill="#000000"/><circle cx="409.11" cy="461.82" r="2.30" fill="#000000"/><circle cx="419.30" cy="468.81" r="2.30" fill="#000000"/><circle cx="429.48" cy="441.53" r="2.30" fill="#000000"/><circle cx="439.67" cy="453.95" r="2.30" fill="#000000"/><circle cx="449.85" cy="548.24" r="2.30" fill="#000000"/><circle cx="460.04" cy="475.23" r="2.30" fill="#000000"/><circle cx="470.23" cy="502.14" r="2.30" fill="#000000"/><circle cx="480.41" cy="448.97" r="2.30" fill="#000000"/><circle cx="490.60" cy="422.46" r="2.30" fill="#000000"/>
<polyline points="52.60,461.95 62.79,473.19 72.97,472.39 83.16,486.85 93.34,470.78 103.53,489.26 113.72,441.06 123.90,507.73 134.09,465.96 144.27,472.39 154.46,462.75 164.65,468.05 174.83,490.06 185.02,487.65 195.20,468.37 205.39,498.90 215.58,502.91 225.76,475.60 235.95,484.12 246.13,495.68 256.32,451.51 266.51,468.37 276.69,471.59 286.88,465.96 297.06,495.68 307.25,456.33 317.44,479.62 327.62,470.78 337.81,430.30 347.99,451.51 358.18,494.08 368.37,467.09 378.55,465.16 388.74,482.83 398.92,482.83 409.11,483.63 419.30,470.78 429.48,458.73 439.67,477.69 449.85,500.50 460.04,471.27 470.23,512.55 480.41,457.93 490.60,469.98" fill="none" stroke="#ff0000" stroke-width="1.75" stroke-linejoin="round" stroke-linecap="butt"/><circle cx="52.60" cy="461.95" r="2.30" fill="#ff0000"/><circle cx="62.79" cy="473.19" r="2.30" fill="#ff0000"/><circle cx="72.97" cy="472.39" r="2.30" fill="#ff0000"/><circle cx="83.16" cy="486.85" r="2.30" fill="#ff0000"/><circle cx="93.34" cy="470.78" r="2.30" fill="#ff0000"/><circle cx="103.53" cy="489.26" r="2.30" fill="#ff0000"/><circle cx="113.72" cy="441.06" r="2.30" fill="#ff0000"/><circle cx="123.90" cy="507.73" r="2.30" fill="#ff0000"/><circle cx="134.09" cy="465.96" r="2.30" fill="#ff0000"/><circle cx="144.27" cy="472.39" r="2.30" fill="#ff0000"/><circle cx="154.46" cy="462.75" r="2.30" fill="#ff0000"/><circle cx="164.65" cy="468.05" r="2.30" fill="#ff0000"/><circle cx="174.83" cy="490.06" r="2.30" fill="#ff0000"/><circle cx="185.02" cy="487.65" r="2.30" fill="#ff0000"/><circle cx="195.20" cy="468.37" r="2.30" fill="#ff0000"/><circle cx="205.39" cy="498.90" r="2.30" fill="#ff0000"/><circle cx="215.58" cy="502.91" r="2.30" fill="#ff0000"/><circle cx="225.76" cy="475.60" r="2.30" fill="#ff0000"/><circle cx="235.95" cy="484.12" r="2.30" fill="#ff0000"/><circle cx="246.13" cy="495.68" r="2.30" fill="#ff0000"/><circle cx="256.32" cy="451.51" r="2.30" fill="#ff0000"/><circle cx="266.51" cy="468.37" r="2.30" fill="#ff0000"/><circle cx="276.69" cy="471.59" r="2.30" fill="#ff0000"/><circle cx="286.88" cy="465.96" r="2.30" fill="#ff0000"/><circle cx="297.06" cy="495.68" r="2.30" fill="#ff0000"/><circle cx="307.25" cy="456.33" r="2.30" fill="#ff0000"/><circle cx="317.44" cy="479.62" r="2.30" fill="#ff0000"/><circle cx="327.62" cy="470.78" r="2.30" fill="#ff0000"/><circle cx="337.81" cy="430.30" r="2.30" fill="#ff0000"/><circle cx="347.99" cy="451.51" r="2.30" fill="#ff0000"/><circle cx="358.18" cy="494.08" r="2.30" fill="#ff0000"/><circle cx="368.37" cy="467.09" r="2.30" fill="#ff0000"/><circle cx="378.55" cy="465.16" r="2.30" fill="#ff0000"/><circle cx="388.74" cy="482.83" r="2.30" fill="#ff0000"/><circle cx="398.92" cy="482.83" r="2.30" fill="#ff0000"/><circle cx="409.11" cy="483.63" r="2.30" fill="#ff0000"/><circle cx="419.30" cy="470.78" r="2.30" fill="#ff0000"/><circle cx="429.48" cy="458.73" r="2.30" fill="#ff0000"/><circle cx="439.67" cy="477.69" r="2.30" fill="#ff0000"/><circle cx="449.85" cy="500.50" r="2.30" fill="#ff0000"/><circle cx="460.04" cy="471.27" r="2.30" fill="#ff0000"/><circle cx="470.23" cy="512.55" r="2.30" fill="#ff0000"/><circle cx="480.41" cy="457.93" r="2.30" fill="#ff0000"/><circle cx="490.60" cy="469.98" r="2.30" fill="#ff0000"/>
<polyline points="52.60,467.57 62.79,466.45 72.97,484.44 83.16,487.97 93.34,456.33 103.53,500.50 113.72,432.23 123.90,483.63 134.09,473.19 144.27,480.42 154.46,463.55 164.65,490.86 174.83,507.73 185.02,471.59 195.20,462.27 205.39,519.78 215.58,505.32 225.76,470.78 235.95,462.75 246.13,505.32 256.32,449.10 266.51,456.33 276.69,481.22 286.88,463.55 297.06,502.11 307.25,443.96 317.44,485.72 327.62,485.24 337.81,437.85 347.99,453.92 358.18,503.23 368.37,465.96 378.55,458.73 388.74,493.27 398.92,457.61 409.11,498.09 419.30,464.84 429.48,462.27 439.67,445.56 449.85,505.48 460.04,463.55 470.23,506.61 480.41,465.96 490.60,457.93" fill="none" stroke="#008000" stroke-width="1.75" stroke-linejoin="round" stroke-linecap="butt"/><circle cx="52.60" cy="467.57" r="2.30" fill="#008000"/><circle cx="62.79" cy="466.45" r="2.30" fill="#008000"/><circle cx="72.97" cy="484.44" r="2.30" fill="#008000"/><circle cx="83.16" cy="487.97" r="2.30" fill="#008000"/><circle cx="93.34" cy="456.33" r="2.30" fill="#008000"/><circle cx="103.53" cy="500.50" r="2.30" fill="#008000"/><circle cx="113.72" cy="432.23" r="2.30" fill="#008000"/><circle cx="123.90" cy="483.63" r="2.30" fill="#008000"/><circle cx="134.09" cy="473.19" r="2.30" fill="#008000"/><circle cx="144.27" cy="480.42" r="2.30" fill="#008000"/><circle cx="154.46" cy="463.55" r="2.30" fill="#008000"/><circle cx="164.65" cy="490.86" r="2.30" fill="#008000"/><circle cx="174.83" cy="507.73" r="2.30" fill="#008000"/><circle cx="185.02" cy="471.59" r="2.30" fill="#008000"/><circle cx="195.20" cy="462.27" r="2.30" fill="#008000"/><circle cx="205.39" cy="519.78" r="2.30" fill="#008000"/><circle cx="215.58" cy="505.32" r="2.30" fill="#008000"/><circle cx="225.76" cy="470.78" r="2.30" fill="#008000"/><circle cx="235.95" cy="462.75" r="2.30" fill="#008000"/><circle cx="246.13" cy="505.32" r="2.30" fill="#008000"/><circle cx="256.32" cy="449.10" r="2.30" fill="#008000"/><circle cx="266.51" cy="456.33" r="2.30" fill="#008000"/><circle cx="276.69" cy="481.22" r="2.30" fill="#008000"/><circle cx="286.88" cy="463.55" r="2.30" fill="#008000"/><circle cx="297.06" cy="502.11" r="2.30" fill="#008000"/><circle cx="307.25" cy="443.96" r="2.30" fill="#008000"/><circle cx="317.44" cy="485.72" r="2.30" fill="#008000"/><circle cx="327.62" cy="485.24" r="2.30" fill="#008000"/><circle cx="337.81" cy="437.85" r="2.30" fill="#008000"/><circle cx="347.99" cy="453.92" r="2.30" fill="#008000"/><circle cx="358.18" cy="503.23" r="2.30" fill="#008000"/><circle cx="368.37" cy="465.96" r="2.30" fill="#008000"/><circle cx="378.55" cy="458.73" r="2.30" fill="#008000"/><circle cx="388.74" cy="493.27" r="2.30" fill="#008000"/><circle cx="398.92" cy="457.61" r="2.30" fill="#008000"/><circle cx="409.11" cy="498.09" r="2.30" fill="#008000"/><circle cx="419.30" cy="464.84" r="2.30" fill="#008000"/><circle cx="429.48" cy="462.27" r="2.30" fill="#008000"/><circle cx="439.67" cy="445.56" r="2.30" fill="#008000"/><circle cx="449.85" cy="505.48" r="2.30" fill="#008000"/><circle cx="460.04" cy="463.55" r="2.30" fill="#008000"/><circle cx="470.23" cy="506.61" r="2.30" fill="#008000"/><circle cx="480.41" cy="465.96" r="2.30" fill="#008000"/><circle cx="490.60" cy="457.93" r="2.30" fill="#008000"/>
<polyline points="52.60,467.09 62.79,460.66 72.97,470.78 83.16,502.91 93.34,460.66 103.53,487.65 113.72,460.34 123.90,491.51 134.09,478.82 144.27,485.24 154.46,460.02 164.65,460.66 174.83,485.72 185.02,469.18 195.20,467.09 205.39,501.79 215.58,490.86 225.76,463.55 235.95,463.55 246.13,488.94 256.32,465.96 266.51,459.70 276.69,463.55 286.88,460.34 297.06,506.12 307.25,460.34 317.44,482.03 327.62,476.73 337.81,460.34 347.99,462.27 358.18,497.29 368.37,462.75 378.55,459.54 388.74,482.83 398.92,464.36 409.11,498.90 419.30,467.57 429.48,479.62 439.67,460.02 449.85,503.71 460.04,460.02 470.23,508.53 480.41,471.91 490.60,472.87" fill="none" stroke="#0000ff" stroke-width="1.75" stroke-linejoin="round" stroke-linecap="butt"/><circle cx="52.60" cy="467.09" r="2.30" fill="#0000ff"/><circle cx="62.79" cy="460.66" r="2.30" fill="#0000ff"/><circle cx="72.97" cy="470.78" r="2.30" fill="#0000ff"/><circle cx="83.16" cy="502.91" r="2.30" fill="#0000ff"/><circle cx="93.34" cy="460.66" r="2.30" fill="#0000ff"/><circle cx="103.53" cy="487.65" r="2.30" fill="#0000ff"/><circle cx="113.72" cy="460.34" r="2.30" fill="#0000ff"/><circle cx="123.90" cy="491.51" r="2.30" fill="#0000ff"/><circle cx="134.09" cy="478.82" r="2.30" fill="#0000ff"/><circle cx="144.27" cy="485.24" r="2.30" fill="#0000ff"/><circle cx="154.46" cy="460.02" r="2.30" fill="#0000ff"/><circle cx="164.65" cy="460.66" r="2.30" fill="#0000ff"/><circle cx="174.83" cy="485.72" r="2.30" fill="#0000ff"/><circle cx="185.02" cy="469.18" r="2.30" fill="#0000ff"/><circle cx="195.20" cy="467.09" r="2.30" fill="#0000ff"/><circle cx="205.39" cy="501.79" r="2.30" fill="#0000ff"/><circle cx="215.58" cy="490.86" r="2.30" fill="#0000ff"/><circle cx="225.76" cy="463.55" r="2.30" fill="#0000ff"/><circle cx="235.95" cy="463.55" r="2.30" fill="#0000ff"/><circle cx="246.13" cy="488.94" r="2.30" fill="#0000ff"/><circle cx="256.32" cy="465.96" r="2.30" fill="#0000ff"/><circle cx="266.51" cy="459.70" r="2.30" fill="#0000ff"/><circle cx="276.69" cy="463.55" r="2.30" fill="#0000ff"/><circle cx="286.88" cy="460.34" r="2.30" fill="#0000ff"/><circle cx="297.06" cy="506.12" r="2.30" fill="#0000ff"/><circle cx="307.25" cy="460.34" r="2.30" fill="#0000ff"/><circle cx="317.44" cy="482.03" r="2.30" fill="#0000ff"/><circle cx="327.62" cy="476.73" r="2.30" fill="#0000ff"/><circle cx="337.81" cy="460.34" r="2.30" fill="#0000ff"/><circle cx="347.99" cy="462.27" r="2.30" fill="#0000ff"/><circle cx="358.18" cy="497.29" r="2.30" fill="#0000ff"/><circle cx="368.37" cy="462.75" r="2.30" fill="#0000ff"/><circle cx="378.55" cy="459.54" r="2.30" fill="#0000ff"/><circle cx="388.74" cy="482.83" r="2.30" fill="#0000ff"/><circle cx="398.92" cy="464.36" r="2.30" fill="#0000ff"/><circle cx="409.11" cy="498.90" r="2.30" fill="#0000ff"/><circle cx="419.30" cy="467.57" r="2.30" fill="#0000ff"/><circle cx="429.48" cy="479.62" r="2.30" fill="#0000ff"/><circle cx="439.67" cy="460.02" r="2.30" fill="#0000ff"/><circle cx="449.85" cy="503.71" r="2.30" fill="#0000ff"/><circle cx="460.04" cy="460.02" r="2.30" fill="#0000ff"/><circle cx="470.23" cy="508.53" r="2.30" fill="#0000ff"/><circle cx="480.41" cy="471.91" r="2.30" fill="#0000ff"/><circle cx="490.60" cy="472.87" r="2.30" fill="#0000ff"/>
<polyline points="52.60,469.18 62.79,488.94 72.97,473.19 83.16,437.05 93.34,488.94 103.53,490.06 113.72,474.00 123.90,475.12 134.09,449.10 144.27,468.37 154.46,476.73 164.65,475.12 174.83,472.87 185.02,490.54 195.20,487.81 205.39,476.41 215.58,495.68 225.76,478.82 235.95,454.72 246.13,485.24 256.32,457.13 266.51,476.73 276.69,486.85 286.88,479.62 297.06,461.95 307.25,485.72 317.44,457.13 327.62,467.09 337.81,474.00 347.99,462.75 358.18,486.85 368.37,470.78 378.55,490.86 388.74,476.41 398.92,496.65 409.11,458.73 419.30,472.87 429.48,445.88 439.67,485.72 449.85,492.47 460.04,494.88 470.23,490.06 480.41,463.55 490.60,460.34" fill="none" stroke="#b200de" stroke-width="1.55" stroke-linejoin="round" stroke-linecap="butt"/><circle cx="52.60" cy="469.18" r="1.60" fill="#b200de"/><circle cx="62.79" cy="488.94" r="1.60" fill="#b200de"/><circle cx="72.97" cy="473.19" r="1.60" fill="#b200de"/><circle cx="83.16" cy="437.05" r="1.60" fill="#b200de"/><circle cx="93.34" cy="488.94" r="1.60" fill="#b200de"/><circle cx="103.53" cy="490.06" r="1.60" fill="#b200de"/><circle cx="113.72" cy="474.00" r="1.60" fill="#b200de"/><circle cx="123.90" cy="475.12" r="1.60" fill="#b200de"/><circle cx="134.09" cy="449.10" r="1.60" fill="#b200de"/><circle cx="144.27" cy="468.37" r="1.60" fill="#b200de"/><circle cx="154.46" cy="476.73" r="1.60" fill="#b200de"/><circle cx="164.65" cy="475.12" r="1.60" fill="#b200de"/><circle cx="174.83" cy="472.87" r="1.60" fill="#b200de"/><circle cx="185.02" cy="490.54" r="1.60" fill="#b200de"/><circle cx="195.20" cy="487.81" r="1.60" fill="#b200de"/><circle cx="205.39" cy="476.41" r="1.60" fill="#b200de"/><circle cx="215.58" cy="495.68" r="1.60" fill="#b200de"/><circle cx="225.76" cy="478.82" r="1.60" fill="#b200de"/><circle cx="235.95" cy="454.72" r="1.60" fill="#b200de"/><circle cx="246.13" cy="485.24" r="1.60" fill="#b200de"/><circle cx="256.32" cy="457.13" r="1.60" fill="#b200de"/><circle cx="266.51" cy="476.73" r="1.60" fill="#b200de"/><circle cx="276.69" cy="486.85" r="1.60" fill="#b200de"/><circle cx="286.88" cy="479.62" r="1.60" fill="#b200de"/><circle cx="297.06" cy="461.95" r="1.60" fill="#b200de"/><circle cx="307.25" cy="485.72" r="1.60" fill="#b200de"/><circle cx="317.44" cy="457.13" r="1.60" fill="#b200de"/><circle cx="327.62" cy="467.09" r="1.60" fill="#b200de"/><circle cx="337.81" cy="474.00" r="1.60" fill="#b200de"/><circle cx="347.99" cy="462.75" r="1.60" fill="#b200de"/><circle cx="358.18" cy="486.85" r="1.60" fill="#b200de"/><circle cx="368.37" cy="470.78" r="1.60" fill="#b200de"/><circle cx="378.55" cy="490.86" r="1.60" fill="#b200de"/><circle cx="388.74" cy="476.41" r="1.60" fill="#b200de"/><circle cx="398.92" cy="496.65" r="1.60" fill="#b200de"/><circle cx="409.11" cy="458.73" r="1.60" fill="#b200de"/><circle cx="419.30" cy="472.87" r="1.60" fill="#b200de"/><circle cx="429.48" cy="445.88" r="1.60" fill="#b200de"/><circle cx="439.67" cy="485.72" r="1.60" fill="#b200de"/><circle cx="449.85" cy="492.47" r="1.60" fill="#b200de"/><circle cx="460.04" cy="494.88" r="1.60" fill="#b200de"/><circle cx="470.23" cy="490.06" r="1.60" fill="#b200de"/><circle cx="480.41" cy="463.55" r="1.60" fill="#b200de"/><circle cx="490.60" cy="460.34" r="1.60" fill="#b200de"/>
</g>
<rect x="47.5" y="408.5" width="448.2" height="163.0" fill="none" stroke="#000" stroke-width="0.92"/>
<text x="52.6" y="422.60">(c)</text>
<text x="53.00" y="565.40" fill="#ff0000">R<tspan font-size="7.6px" dy="-4.1">2</tspan><tspan dy="4.1"> = 0.33</tspan></text>
<text x="154.86" y="565.40" fill="#008000">R<tspan font-size="7.6px" dy="-4.1">2</tspan><tspan dy="4.1"> = 0.5</tspan></text>
<text x="256.72" y="565.40" fill="#0000ff">R<tspan font-size="7.6px" dy="-4.1">2</tspan><tspan dy="4.1"> = 0.26</tspan></text>
<text x="358.58" y="565.40" fill="#b200de">R<tspan font-size="7.6px" dy="-4.1">2</tspan><tspan dy="4.1"> = 0.22</tspan></text>
</g>
<g>
<clipPath id="c3"><rect x="47.5" y="603.5" width="448.2" height="163.0"/></clipPath>
<line x1="43.5" x2="47.5" y1="603.50" y2="603.50" stroke="#000" stroke-width="0.92"/>
<text x="39.50" y="607.85" text-anchor="end">480</text>
<line x1="43.5" x2="47.5" y1="636.10" y2="636.10" stroke="#000" stroke-width="0.92"/>
<text x="39.50" y="640.45" text-anchor="end">450</text>
<line x1="43.5" x2="47.5" y1="668.70" y2="668.70" stroke="#000" stroke-width="0.92"/>
<text x="39.50" y="673.05" text-anchor="end">420</text>
<line x1="43.5" x2="47.5" y1="701.30" y2="701.30" stroke="#000" stroke-width="0.92"/>
<text x="39.50" y="705.65" text-anchor="end">390</text>
<line x1="43.5" x2="47.5" y1="733.90" y2="733.90" stroke="#000" stroke-width="0.92"/>
<text x="39.50" y="738.25" text-anchor="end">360</text>
<line x1="43.5" x2="47.5" y1="766.50" y2="766.50" stroke="#000" stroke-width="0.92"/>
<text x="39.50" y="770.85" text-anchor="end">330</text>
<line x1="52.60" x2="52.60" y1="766.5" y2="770.5" stroke="#000" stroke-width="0.92"/>
<text x="52.60" y="783.30" text-anchor="middle">1980</text>
<line x1="154.46" x2="154.46" y1="766.5" y2="770.5" stroke="#000" stroke-width="0.92"/>
<text x="154.46" y="783.30" text-anchor="middle">1990</text>
<line x1="256.32" x2="256.32" y1="766.5" y2="770.5" stroke="#000" stroke-width="0.92"/>
<text x="256.32" y="783.30" text-anchor="middle">2000</text>
<line x1="358.18" x2="358.18" y1="766.5" y2="770.5" stroke="#000" stroke-width="0.92"/>
<text x="358.18" y="783.30" text-anchor="middle">2010</text>
<line x1="460.04" x2="460.04" y1="766.5" y2="770.5" stroke="#000" stroke-width="0.92"/>
<text x="460.04" y="783.30" text-anchor="middle">2020</text>
<text transform="translate(10.8,685.00) rotate(-90)" text-anchor="middle">TCO [DU]</text>
<text x="271.60" y="596.90" text-anchor="middle" font-size="13.8px">14/02 - 16/03</text>
<g clip-path="url(#c3)">
<polyline points="52.60,654.46 62.79,656.55 72.97,663.29 83.16,641.00 93.34,638.62 103.53,666.51 113.72,646.91 123.90,648.84 134.09,629.99 144.27,699.35 154.46,656.98 164.65,698.06 174.83,720.59 185.02,679.10 195.20,690.15 205.39,718.66 215.58,742.76 225.76,666.10 235.95,634.29 246.13,708.30 256.32,641.72 266.51,667.83 276.69,675.86 286.88,663.81 297.06,683.37 307.25,657.67 317.44,683.89 327.62,673.73 337.81,655.58 347.99,637.82 358.18,741.55 368.37,665.70 378.55,661.80 388.74,679.50 398.92,653.61 409.11,656.82 419.30,663.81 429.48,636.53 439.67,648.95 449.85,743.24 460.04,670.23 470.23,697.14 480.41,643.97 490.60,617.46" fill="none" stroke="#000000" stroke-width="1.75" stroke-linejoin="round" stroke-linecap="butt"/><circle cx="52.60" cy="654.46" r="2.30" fill="#000000"/><circle cx="62.79" cy="656.55" r="2.30" fill="#000000"/><circle cx="72.97" cy="663.29" r="2.30" fill="#000000"/><circle cx="83.16" cy="641.00" r="2.30" fill="#000000"/><circle cx="93.34" cy="638.62" r="2.30" fill="#000000"/><circle cx="103.53" cy="666.51" r="2.30" fill="#000000"/><circle cx="113.72" cy="646.91" r="2.30" fill="#000000"/><circle cx="123.90" cy="648.84" r="2.30" fill="#000000"/><circle cx="134.09" cy="629.99" r="2.30" fill="#000000"/><circle cx="144.27" cy="699.35" r="2.30" fill="#000000"/><circle cx="154.46" cy="656.98" r="2.30" fill="#000000"/><circle cx="164.65" cy="698.06" r="2.30" fill="#000000"/><circle cx="174.83" cy="720.59" r="2.30" fill="#000000"/><circle cx="185.02" cy="679.10" r="2.30" fill="#000000"/><circle cx="195.20" cy="690.15" r="2.30" fill="#000000"/><circle cx="205.39" cy="718.66" r="2.30" fill="#000000"/><circle cx="215.58" cy="742.76" r="2.30" fill="#000000"/><circle cx="225.76" cy="666.10" r="2.30" fill="#000000"/><circle cx="235.95" cy="634.29" r="2.30" fill="#000000"/><circle cx="246.13" cy="708.30" r="2.30" fill="#000000"/><circle cx="256.32" cy="641.72" r="2.30" fill="#000000"/><circle cx="266.51" cy="667.83" r="2.30" fill="#000000"/><circle cx="276.69" cy="675.86" r="2.30" fill="#000000"/><circle cx="286.88" cy="663.81" r="2.30" fill="#000000"/><circle cx="297.06" cy="683.37" r="2.30" fill="#000000"/><circle cx="307.25" cy="657.67" r="2.30" fill="#000000"/><circle cx="317.44" cy="683.89" r="2.30" fill="#000000"/><circle cx="327.62" cy="673.73" r="2.30" fill="#000000"/><circle cx="337.81" cy="655.58" r="2.30" fill="#000000"/><circle cx="347.99" cy="637.82" r="2.30" fill="#000000"/><circle cx="358.18" cy="741.55" r="2.30" fill="#000000"/><circle cx="368.37" cy="665.70" r="2.30" fill="#000000"/><circle cx="378.55" cy="661.80" r="2.30" fill="#000000"/><circle cx="388.74" cy="679.50" r="2.30" fill="#000000"/><circle cx="398.92" cy="653.61" r="2.30" fill="#000000"/><circle cx="409.11" cy="656.82" r="2.30" fill="#000000"/><circle cx="419.30" cy="663.81" r="2.30" fill="#000000"/><circle cx="429.48" cy="636.53" r="2.30" fill="#000000"/><circle cx="439.67" cy="648.95" r="2.30" fill="#000000"/><circle cx="449.85" cy="743.24" r="2.30" fill="#000000"/><circle cx="460.04" cy="670.23" r="2.30" fill="#000000"/><circle cx="470.23" cy="697.14" r="2.30" fill="#000000"/><circle cx="480.41" cy="643.97" r="2.30" fill="#000000"/><circle cx="490.60" cy="617.46" r="2.30" fill="#000000"/>
<polyline points="52.60,655.16 62.79,673.63 72.97,655.96 83.16,644.72 93.34,676.85 103.53,680.86 113.72,649.54 123.90,685.20 134.09,620.62 144.27,672.03 154.46,667.21 164.65,673.63 174.83,668.82 185.02,690.18 195.20,686.49 205.39,682.47 215.58,717.81 225.76,674.44 235.95,647.93 246.13,692.91 256.32,643.92 266.51,662.87 276.69,668.01 286.88,676.04 297.06,677.65 307.25,675.24 317.44,666.41 327.62,647.93 337.81,652.75 347.99,645.52 358.18,709.78 368.37,670.42 378.55,679.26 388.74,680.86 398.92,695.32 409.11,658.05 419.30,662.39 429.48,635.08 439.67,693.23 449.85,716.53 460.04,688.57 470.23,702.23 480.41,631.87 490.60,641.51" fill="none" stroke="#ff0000" stroke-width="1.75" stroke-linejoin="round" stroke-linecap="butt"/><circle cx="52.60" cy="655.16" r="2.30" fill="#ff0000"/><circle cx="62.79" cy="673.63" r="2.30" fill="#ff0000"/><circle cx="72.97" cy="655.96" r="2.30" fill="#ff0000"/><circle cx="83.16" cy="644.72" r="2.30" fill="#ff0000"/><circle cx="93.34" cy="676.85" r="2.30" fill="#ff0000"/><circle cx="103.53" cy="680.86" r="2.30" fill="#ff0000"/><circle cx="113.72" cy="649.54" r="2.30" fill="#ff0000"/><circle cx="123.90" cy="685.20" r="2.30" fill="#ff0000"/><circle cx="134.09" cy="620.62" r="2.30" fill="#ff0000"/><circle cx="144.27" cy="672.03" r="2.30" fill="#ff0000"/><circle cx="154.46" cy="667.21" r="2.30" fill="#ff0000"/><circle cx="164.65" cy="673.63" r="2.30" fill="#ff0000"/><circle cx="174.83" cy="668.82" r="2.30" fill="#ff0000"/><circle cx="185.02" cy="690.18" r="2.30" fill="#ff0000"/><circle cx="195.20" cy="686.49" r="2.30" fill="#ff0000"/><circle cx="205.39" cy="682.47" r="2.30" fill="#ff0000"/><circle cx="215.58" cy="717.81" r="2.30" fill="#ff0000"/><circle cx="225.76" cy="674.44" r="2.30" fill="#ff0000"/><circle cx="235.95" cy="647.93" r="2.30" fill="#ff0000"/><circle cx="246.13" cy="692.91" r="2.30" fill="#ff0000"/><circle cx="256.32" cy="643.92" r="2.30" fill="#ff0000"/><circle cx="266.51" cy="662.87" r="2.30" fill="#ff0000"/><circle cx="276.69" cy="668.01" r="2.30" fill="#ff0000"/><circle cx="286.88" cy="676.04" r="2.30" fill="#ff0000"/><circle cx="297.06" cy="677.65" r="2.30" fill="#ff0000"/><circle cx="307.25" cy="675.24" r="2.30" fill="#ff0000"/><circle cx="317.44" cy="666.41" r="2.30" fill="#ff0000"/><circle cx="327.62" cy="647.93" r="2.30" fill="#ff0000"/><circle cx="337.81" cy="652.75" r="2.30" fill="#ff0000"/><circle cx="347.99" cy="645.52" r="2.30" fill="#ff0000"/><circle cx="358.18" cy="709.78" r="2.30" fill="#ff0000"/><circle cx="368.37" cy="670.42" r="2.30" fill="#ff0000"/><circle cx="378.55" cy="679.26" r="2.30" fill="#ff0000"/><circle cx="388.74" cy="680.86" r="2.30" fill="#ff0000"/><circle cx="398.92" cy="695.32" r="2.30" fill="#ff0000"/><circle cx="409.11" cy="658.05" r="2.30" fill="#ff0000"/><circle cx="419.30" cy="662.39" r="2.30" fill="#ff0000"/><circle cx="429.48" cy="635.08" r="2.30" fill="#ff0000"/><circle cx="439.67" cy="693.23" r="2.30" fill="#ff0000"/><circle cx="449.85" cy="716.53" r="2.30" fill="#ff0000"/><circle cx="460.04" cy="688.57" r="2.30" fill="#ff0000"/><circle cx="470.23" cy="702.23" r="2.30" fill="#ff0000"/><circle cx="480.41" cy="631.87" r="2.30" fill="#ff0000"/><circle cx="490.60" cy="641.51" r="2.30" fill="#ff0000"/>
<polyline points="52.60,656.45 62.79,660.30 72.97,672.03 83.16,659.18 93.34,653.88 103.53,694.52 113.72,634.28 123.90,669.62 134.09,639.10 144.27,681.67 154.46,660.78 164.65,697.73 174.83,712.19 185.02,678.45 195.20,672.03 205.39,721.02 215.58,720.22 225.76,663.19 235.95,639.90 246.13,712.99 256.32,635.08 266.51,651.63 276.69,678.94 286.88,664.80 297.06,703.03 307.25,650.34 317.44,672.03 327.62,670.42 337.81,644.72 347.99,635.08 358.18,727.45 368.37,666.41 378.55,653.23 388.74,692.11 398.92,657.57 409.11,684.88 419.30,660.78 429.48,631.06 439.67,645.20 449.85,727.45 460.04,667.21 470.23,711.39 480.41,643.92 490.60,631.06" fill="none" stroke="#008000" stroke-width="1.75" stroke-linejoin="round" stroke-linecap="butt"/><circle cx="52.60" cy="656.45" r="2.30" fill="#008000"/><circle cx="62.79" cy="660.30" r="2.30" fill="#008000"/><circle cx="72.97" cy="672.03" r="2.30" fill="#008000"/><circle cx="83.16" cy="659.18" r="2.30" fill="#008000"/><circle cx="93.34" cy="653.88" r="2.30" fill="#008000"/><circle cx="103.53" cy="694.52" r="2.30" fill="#008000"/><circle cx="113.72" cy="634.28" r="2.30" fill="#008000"/><circle cx="123.90" cy="669.62" r="2.30" fill="#008000"/><circle cx="134.09" cy="639.10" r="2.30" fill="#008000"/><circle cx="144.27" cy="681.67" r="2.30" fill="#008000"/><circle cx="154.46" cy="660.78" r="2.30" fill="#008000"/><circle cx="164.65" cy="697.73" r="2.30" fill="#008000"/><circle cx="174.83" cy="712.19" r="2.30" fill="#008000"/><circle cx="185.02" cy="678.45" r="2.30" fill="#008000"/><circle cx="195.20" cy="672.03" r="2.30" fill="#008000"/><circle cx="205.39" cy="721.02" r="2.30" fill="#008000"/><circle cx="215.58" cy="720.22" r="2.30" fill="#008000"/><circle cx="225.76" cy="663.19" r="2.30" fill="#008000"/><circle cx="235.95" cy="639.90" r="2.30" fill="#008000"/><circle cx="246.13" cy="712.99" r="2.30" fill="#008000"/><circle cx="256.32" cy="635.08" r="2.30" fill="#008000"/><circle cx="266.51" cy="651.63" r="2.30" fill="#008000"/><circle cx="276.69" cy="678.94" r="2.30" fill="#008000"/><circle cx="286.88" cy="664.80" r="2.30" fill="#008000"/><circle cx="297.06" cy="703.03" r="2.30" fill="#008000"/><circle cx="307.25" cy="650.34" r="2.30" fill="#008000"/><circle cx="317.44" cy="672.03" r="2.30" fill="#008000"/><circle cx="327.62" cy="670.42" r="2.30" fill="#008000"/><circle cx="337.81" cy="644.72" r="2.30" fill="#008000"/><circle cx="347.99" cy="635.08" r="2.30" fill="#008000"/><circle cx="358.18" cy="727.45" r="2.30" fill="#008000"/><circle cx="368.37" cy="666.41" r="2.30" fill="#008000"/><circle cx="378.55" cy="653.23" r="2.30" fill="#008000"/><circle cx="388.74" cy="692.11" r="2.30" fill="#008000"/><circle cx="398.92" cy="657.57" r="2.30" fill="#008000"/><circle cx="409.11" cy="684.88" r="2.30" fill="#008000"/><circle cx="419.30" cy="660.78" r="2.30" fill="#008000"/><circle cx="429.48" cy="631.06" r="2.30" fill="#008000"/><circle cx="439.67" cy="645.20" r="2.30" fill="#008000"/><circle cx="449.85" cy="727.45" r="2.30" fill="#008000"/><circle cx="460.04" cy="667.21" r="2.30" fill="#008000"/><circle cx="470.23" cy="711.39" r="2.30" fill="#008000"/><circle cx="480.41" cy="643.92" r="2.30" fill="#008000"/><circle cx="490.60" cy="631.06" r="2.30" fill="#008000"/>
<polyline points="52.60,657.09 62.79,656.77 72.97,659.98 83.16,683.27 93.34,656.45 103.53,687.61 113.72,656.45 123.90,688.90 134.09,656.77 144.27,658.69 154.46,656.45 164.65,656.45 174.83,666.41 185.02,680.86 195.20,662.39 205.39,697.41 215.58,721.02 225.76,661.59 235.95,657.57 246.13,688.09 256.32,655.96 266.51,656.61 276.69,660.78 286.88,656.45 297.06,693.39 307.25,656.45 317.44,674.44 327.62,662.39 337.81,655.96 347.99,656.45 358.18,727.45 368.37,656.45 378.55,656.45 388.74,679.26 398.92,660.78 409.11,693.23 419.30,657.09 429.48,656.45 439.67,656.45 449.85,740.30 460.04,655.96 470.23,708.17 480.41,657.57 490.60,658.05" fill="none" stroke="#0000ff" stroke-width="1.75" stroke-linejoin="round" stroke-linecap="butt"/><circle cx="52.60" cy="657.09" r="2.30" fill="#0000ff"/><circle cx="62.79" cy="656.77" r="2.30" fill="#0000ff"/><circle cx="72.97" cy="659.98" r="2.30" fill="#0000ff"/><circle cx="83.16" cy="683.27" r="2.30" fill="#0000ff"/><circle cx="93.34" cy="656.45" r="2.30" fill="#0000ff"/><circle cx="103.53" cy="687.61" r="2.30" fill="#0000ff"/><circle cx="113.72" cy="656.45" r="2.30" fill="#0000ff"/><circle cx="123.90" cy="688.90" r="2.30" fill="#0000ff"/><circle cx="134.09" cy="656.77" r="2.30" fill="#0000ff"/><circle cx="144.27" cy="658.69" r="2.30" fill="#0000ff"/><circle cx="154.46" cy="656.45" r="2.30" fill="#0000ff"/><circle cx="164.65" cy="656.45" r="2.30" fill="#0000ff"/><circle cx="174.83" cy="666.41" r="2.30" fill="#0000ff"/><circle cx="185.02" cy="680.86" r="2.30" fill="#0000ff"/><circle cx="195.20" cy="662.39" r="2.30" fill="#0000ff"/><circle cx="205.39" cy="697.41" r="2.30" fill="#0000ff"/><circle cx="215.58" cy="721.02" r="2.30" fill="#0000ff"/><circle cx="225.76" cy="661.59" r="2.30" fill="#0000ff"/><circle cx="235.95" cy="657.57" r="2.30" fill="#0000ff"/><circle cx="246.13" cy="688.09" r="2.30" fill="#0000ff"/><circle cx="256.32" cy="655.96" r="2.30" fill="#0000ff"/><circle cx="266.51" cy="656.61" r="2.30" fill="#0000ff"/><circle cx="276.69" cy="660.78" r="2.30" fill="#0000ff"/><circle cx="286.88" cy="656.45" r="2.30" fill="#0000ff"/><circle cx="297.06" cy="693.39" r="2.30" fill="#0000ff"/><circle cx="307.25" cy="656.45" r="2.30" fill="#0000ff"/><circle cx="317.44" cy="674.44" r="2.30" fill="#0000ff"/><circle cx="327.62" cy="662.39" r="2.30" fill="#0000ff"/><circle cx="337.81" cy="655.96" r="2.30" fill="#0000ff"/><circle cx="347.99" cy="656.45" r="2.30" fill="#0000ff"/><circle cx="358.18" cy="727.45" r="2.30" fill="#0000ff"/><circle cx="368.37" cy="656.45" r="2.30" fill="#0000ff"/><circle cx="378.55" cy="656.45" r="2.30" fill="#0000ff"/><circle cx="388.74" cy="679.26" r="2.30" fill="#0000ff"/><circle cx="398.92" cy="660.78" r="2.30" fill="#0000ff"/><circle cx="409.11" cy="693.23" r="2.30" fill="#0000ff"/><circle cx="419.30" cy="657.09" r="2.30" fill="#0000ff"/><circle cx="429.48" cy="656.45" r="2.30" fill="#0000ff"/><circle cx="439.67" cy="656.45" r="2.30" fill="#0000ff"/><circle cx="449.85" cy="740.30" r="2.30" fill="#0000ff"/><circle cx="460.04" cy="655.96" r="2.30" fill="#0000ff"/><circle cx="470.23" cy="708.17" r="2.30" fill="#0000ff"/><circle cx="480.41" cy="657.57" r="2.30" fill="#0000ff"/><circle cx="490.60" cy="658.05" r="2.30" fill="#0000ff"/>
<polyline points="52.60,671.55 62.79,676.04 72.97,666.08 83.16,646.33 93.34,669.62 103.53,669.62 113.72,676.37 123.90,657.57 134.09,657.09 144.27,684.08 154.46,670.42 164.65,672.03 174.83,662.87 185.02,675.72 195.20,684.08 205.39,661.59 215.58,680.06 225.76,674.12 235.95,656.77 246.13,664.80 256.32,674.76 266.51,674.60 276.69,676.04 286.88,674.44 297.06,653.23 307.25,679.26 317.44,667.69 327.62,665.60 337.81,680.86 347.99,670.42 358.18,684.40 368.37,670.42 378.55,678.94 388.74,669.62 398.92,678.13 409.11,653.55 419.30,669.94 429.48,672.03 439.67,677.97 449.85,677.33 460.04,680.54 470.23,667.21 480.41,668.82 490.60,656.45" fill="none" stroke="#b200de" stroke-width="1.55" stroke-linejoin="round" stroke-linecap="butt"/><circle cx="52.60" cy="671.55" r="1.60" fill="#b200de"/><circle cx="62.79" cy="676.04" r="1.60" fill="#b200de"/><circle cx="72.97" cy="666.08" r="1.60" fill="#b200de"/><circle cx="83.16" cy="646.33" r="1.60" fill="#b200de"/><circle cx="93.34" cy="669.62" r="1.60" fill="#b200de"/><circle cx="103.53" cy="669.62" r="1.60" fill="#b200de"/><circle cx="113.72" cy="676.37" r="1.60" fill="#b200de"/><circle cx="123.90" cy="657.57" r="1.60" fill="#b200de"/><circle cx="134.09" cy="657.09" r="1.60" fill="#b200de"/><circle cx="144.27" cy="684.08" r="1.60" fill="#b200de"/><circle cx="154.46" cy="670.42" r="1.60" fill="#b200de"/><circle cx="164.65" cy="672.03" r="1.60" fill="#b200de"/><circle cx="174.83" cy="662.87" r="1.60" fill="#b200de"/><circle cx="185.02" cy="675.72" r="1.60" fill="#b200de"/><circle cx="195.20" cy="684.08" r="1.60" fill="#b200de"/><circle cx="205.39" cy="661.59" r="1.60" fill="#b200de"/><circle cx="215.58" cy="680.06" r="1.60" fill="#b200de"/><circle cx="225.76" cy="674.12" r="1.60" fill="#b200de"/><circle cx="235.95" cy="656.77" r="1.60" fill="#b200de"/><circle cx="246.13" cy="664.80" r="1.60" fill="#b200de"/><circle cx="256.32" cy="674.76" r="1.60" fill="#b200de"/><circle cx="266.51" cy="674.60" r="1.60" fill="#b200de"/><circle cx="276.69" cy="676.04" r="1.60" fill="#b200de"/><circle cx="286.88" cy="674.44" r="1.60" fill="#b200de"/><circle cx="297.06" cy="653.23" r="1.60" fill="#b200de"/><circle cx="307.25" cy="679.26" r="1.60" fill="#b200de"/><circle cx="317.44" cy="667.69" r="1.60" fill="#b200de"/><circle cx="327.62" cy="665.60" r="1.60" fill="#b200de"/><circle cx="337.81" cy="680.86" r="1.60" fill="#b200de"/><circle cx="347.99" cy="670.42" r="1.60" fill="#b200de"/><circle cx="358.18" cy="684.40" r="1.60" fill="#b200de"/><circle cx="368.37" cy="670.42" r="1.60" fill="#b200de"/><circle cx="378.55" cy="678.94" r="1.60" fill="#b200de"/><circle cx="388.74" cy="669.62" r="1.60" fill="#b200de"/><circle cx="398.92" cy="678.13" r="1.60" fill="#b200de"/><circle cx="409.11" cy="653.55" r="1.60" fill="#b200de"/><circle cx="419.30" cy="669.94" r="1.60" fill="#b200de"/><circle cx="429.48" cy="672.03" r="1.60" fill="#b200de"/><circle cx="439.67" cy="677.97" r="1.60" fill="#b200de"/><circle cx="449.85" cy="677.33" r="1.60" fill="#b200de"/><circle cx="460.04" cy="680.54" r="1.60" fill="#b200de"/><circle cx="470.23" cy="667.21" r="1.60" fill="#b200de"/><circle cx="480.41" cy="668.82" r="1.60" fill="#b200de"/><circle cx="490.60" cy="656.45" r="1.60" fill="#b200de"/>
</g>
<rect x="47.5" y="603.5" width="448.2" height="163.0" fill="none" stroke="#000" stroke-width="0.92"/>
<text x="52.6" y="617.60">(d)</text>
<text x="53.00" y="760.40" fill="#ff0000">R<tspan font-size="7.6px" dy="-4.1">2</tspan><tspan dy="4.1"> = 0.53</tspan></text>
<text x="154.86" y="760.40" fill="#008000">R<tspan font-size="7.6px" dy="-4.1">2</tspan><tspan dy="4.1"> = 0.84</tspan></text>
<text x="256.72" y="760.40" fill="#0000ff">R<tspan font-size="7.6px" dy="-4.1">2</tspan><tspan dy="4.1"> = 0.51</tspan></text>
<text x="358.58" y="760.40" fill="#b200de">R<tspan font-size="7.6px" dy="-4.1">2</tspan><tspan dy="4.1"> = 0.09</tspan></text>
</g>
<rect x="148.70000000000002" y="807.0" width="251.1" height="54.89999999999998" rx="2.3" fill="#4d4d4d" opacity="0.5"/>
<rect x="146.4" y="804.7" width="251.1" height="54.89999999999998" rx="2.3" fill="#fff" stroke="#ccc" stroke-width="1.15"/>
<line x1="150.1" x2="174.5" y1="814.4" y2="814.4" stroke="#000000" stroke-width="1.75"/><circle cx="162.29999999999998" cy="814.4" r="2.3" fill="#000000"/>
<text x="183.7" y="818.60">OBS TCO<tspan font-size="8.2px" dy="2.0" dx="0.2">M</tspan></text>
<line x1="150.1" x2="174.5" y1="831.5" y2="831.5" stroke="#ff0000" stroke-width="1.75"/><circle cx="162.29999999999998" cy="831.5" r="2.3" fill="#ff0000"/>
<text x="183.7" y="835.70">TCO<tspan font-size="8.2px" dy="2.0" dx="0.2">M</tspan><tspan dy="-2.0"> ∼ T</tspan><tspan font-size="8.2px" dy="2.0" dx="0.2">STRAT</tspan></text>
<line x1="150.1" x2="174.5" y1="848.7" y2="848.7" stroke="#008000" stroke-width="1.75"/><circle cx="162.29999999999998" cy="848.7" r="2.3" fill="#008000"/>
<text x="183.7" y="852.90">TCO<tspan font-size="8.2px" dy="2.0" dx="0.2">M</tspan><tspan dy="-2.0"> ∼ TCO</tspan></text>
<line x1="287.3" x2="311.7" y1="814.4" y2="814.4" stroke="#0000ff" stroke-width="1.75"/><circle cx="299.5" cy="814.4" r="2.3" fill="#0000ff"/>
<text x="321.2" y="818.60">TCO<tspan font-size="8.2px" dy="2.0" dx="0.2">M</tspan><tspan dy="-2.0"> ∼ V</tspan><tspan font-size="8.2px" dy="2.0" dx="0.2">PSC</tspan></text>
<line x1="287.3" x2="311.7" y1="831.5" y2="831.5" stroke="#b200de" stroke-width="1.55"/><circle cx="299.5" cy="831.5" r="1.6" fill="#b200de"/>
<text x="321.2" y="835.70">TCO<tspan font-size="8.2px" dy="2.0" dx="0.2">M</tspan><tspan dy="-2.0"> ∼ EHF</tspan></text>
</svg>
</body></html>
